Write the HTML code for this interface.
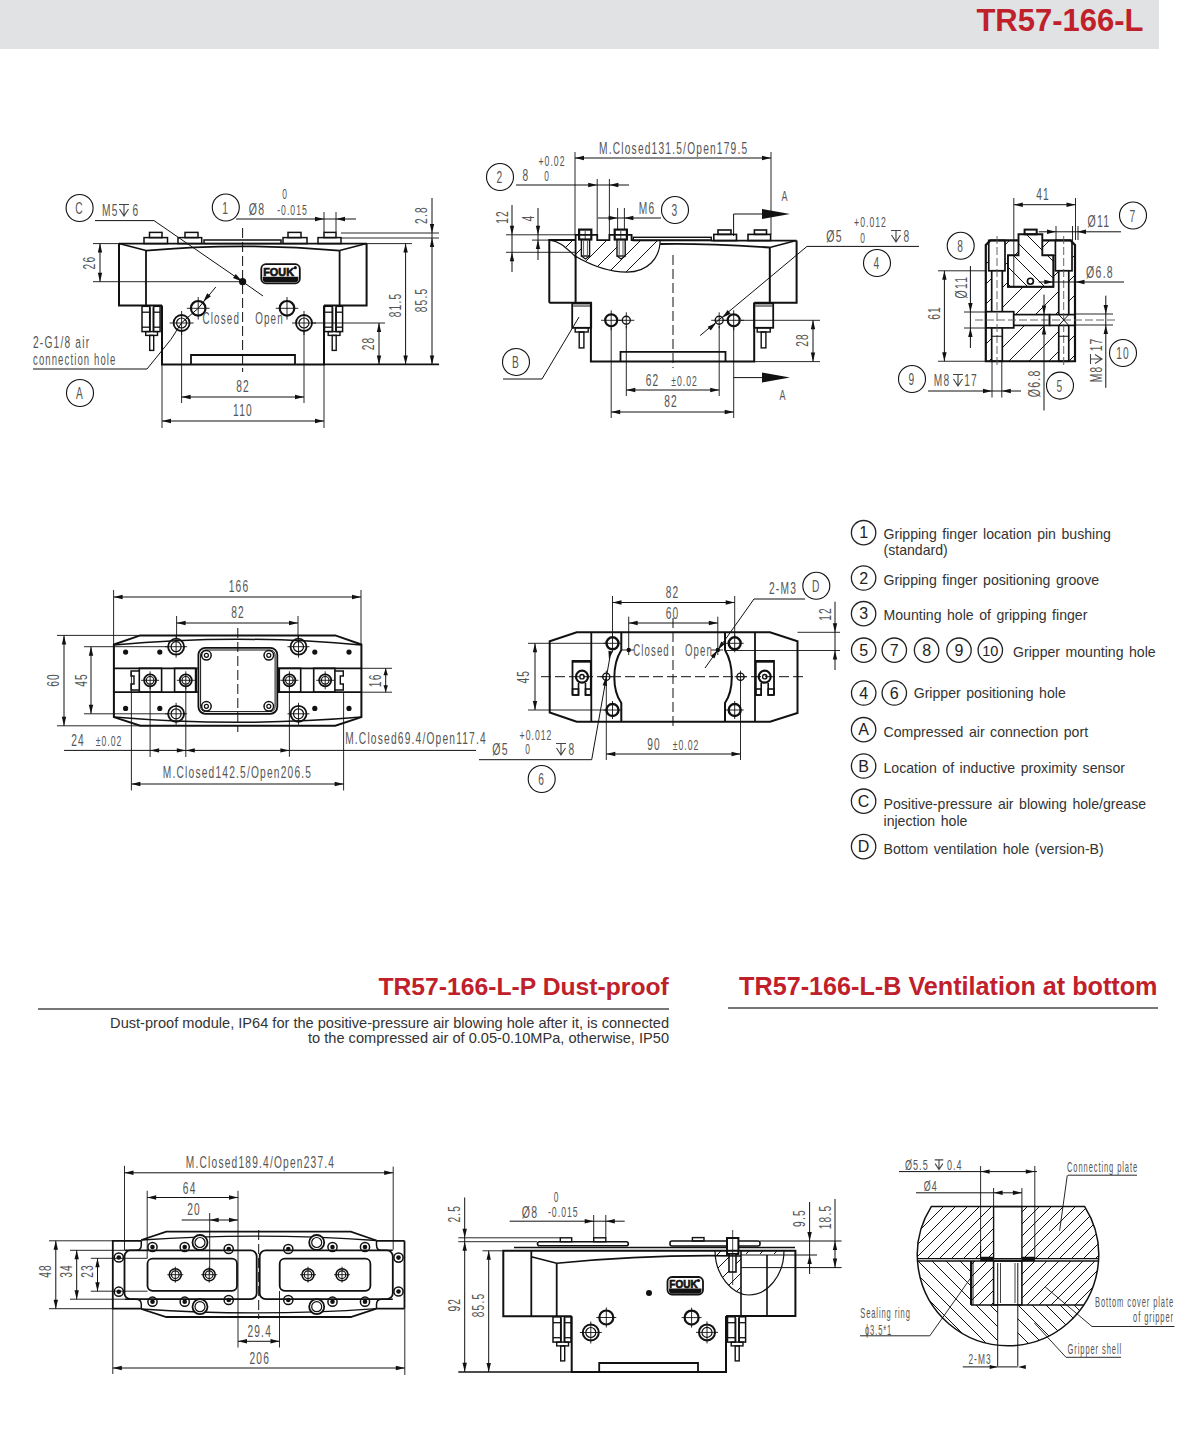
<!DOCTYPE html>
<html><head><meta charset="utf-8">
<style>
html,body{margin:0;padding:0;background:#fff;}
body{width:1200px;height:1445px;position:relative;overflow:hidden;font-family:"Liberation Sans",sans-serif;}
.hdr{position:absolute;left:0;top:0;width:1159px;height:49px;background:#e1e2e4;}
.hdr span{position:absolute;right:15.5px;top:3.5px;font-size:31px;font-weight:bold;color:#c0202a;line-height:34px;}
svg{position:absolute;left:0;top:0;}

.leg{position:absolute;left:883px;font-size:14.5px;color:#333;line-height:16px;}
.ttl{position:absolute;font-size:25px;font-weight:bold;color:#c0202a;line-height:28px;white-space:nowrap;}
.rule{position:absolute;height:2px;background:#777;}
.desc{position:absolute;right:531px;top:1015px;font-size:14.6px;color:#333;line-height:15.5px;text-align:right;white-space:nowrap;}
</style></head><body>
<div class="hdr"><span>TR57-166-L</span></div>
<svg width="1200" height="1445" viewBox="0 0 1200 1445" font-family="Liberation Sans">
<rect x="144" y="237.6" width="23.5" height="6" fill="none" stroke="#111" stroke-width="1.5"/>
<rect x="149.5" y="232.4" width="12.5" height="5.2" fill="none" stroke="#111" stroke-width="1.5"/>
<rect x="178" y="237.6" width="23.7" height="6" fill="none" stroke="#111" stroke-width="1.5"/>
<rect x="185" y="232.4" width="13" height="5.2" fill="none" stroke="#111" stroke-width="1.5"/>
<rect x="283" y="237.6" width="24" height="6" fill="none" stroke="#111" stroke-width="1.5"/>
<rect x="288" y="232.4" width="13" height="5.2" fill="none" stroke="#111" stroke-width="1.5"/>
<rect x="318" y="237.6" width="23" height="6" fill="none" stroke="#111" stroke-width="1.5"/>
<rect x="324" y="232.4" width="12" height="5.2" fill="none" stroke="#111" stroke-width="1.5"/>
<rect x="204" y="240" width="77" height="3.6" fill="none" stroke="#111" stroke-width="1.5"/>
<polyline points="119,243.6 366.6,243.6" fill="none" stroke="#111" stroke-width="1.8" stroke-linejoin="miter"/>
<polyline points="162,305.6 119,305.6 119,243.6" fill="none" stroke="#111" stroke-width="2.0" stroke-linejoin="miter"/>
<polyline points="324,305.6 366.6,305.6 366.6,243.6" fill="none" stroke="#111" stroke-width="2.0" stroke-linejoin="miter"/>
<polyline points="119,243.6 146,250.6" fill="none" stroke="#111" stroke-width="1.6" stroke-linejoin="miter"/>
<polyline points="366.6,243.6 339.6,250.6" fill="none" stroke="#111" stroke-width="1.6" stroke-linejoin="miter"/>
<path d="M146,250.6 Q242.6,242 339.6,250.6" fill="none" stroke="#111" stroke-width="1.8" />
<line x1="146" y1="250.6" x2="146" y2="305.6" stroke="#111" stroke-width="1.8"/>
<line x1="339.6" y1="250.6" x2="339.6" y2="305.6" stroke="#111" stroke-width="1.8"/>
<polyline points="162,305.6 162,364.4 324,364.4 324,305.6" fill="none" stroke="#111" stroke-width="2.0" stroke-linejoin="miter"/>
<polyline points="191,364.4 191,355 295,355 295,364.4" fill="none" stroke="#111" stroke-width="1.8" stroke-linejoin="miter"/>
<rect x="142" y="306.3" width="7.7" height="25.3" fill="none" stroke="#111" stroke-width="1.5"/>
<rect x="153.7" y="306.3" width="6.4" height="25.3" fill="none" stroke="#111" stroke-width="1.5"/>
<line x1="142" y1="312.2" x2="149.7" y2="312.2" stroke="#111" stroke-width="1.3"/>
<line x1="153.7" y1="312.2" x2="160.1" y2="312.2" stroke="#111" stroke-width="1.3"/>
<line x1="142" y1="327.2" x2="149.7" y2="327.2" stroke="#111" stroke-width="1.3"/>
<line x1="153.7" y1="327.2" x2="160.1" y2="327.2" stroke="#111" stroke-width="1.3"/>
<line x1="150.4" y1="307.3" x2="150.4" y2="331.6" stroke="#111" stroke-width="0.9"/>
<line x1="153" y1="307.3" x2="153" y2="331.6" stroke="#111" stroke-width="0.9"/>
<rect x="145.7" y="331.6" width="11.8" height="3.8" fill="none" stroke="#111" stroke-width="1.4"/>
<rect x="149.7" y="335.4" width="4" height="15" fill="none" stroke="#111" stroke-width="1.4"/>
<rect x="324.5" y="306.3" width="7.7" height="25.3" fill="none" stroke="#111" stroke-width="1.5"/>
<rect x="336.2" y="306.3" width="6.4" height="25.3" fill="none" stroke="#111" stroke-width="1.5"/>
<line x1="324.5" y1="312.2" x2="332.2" y2="312.2" stroke="#111" stroke-width="1.3"/>
<line x1="336.2" y1="312.2" x2="342.6" y2="312.2" stroke="#111" stroke-width="1.3"/>
<line x1="324.5" y1="327.2" x2="332.2" y2="327.2" stroke="#111" stroke-width="1.3"/>
<line x1="336.2" y1="327.2" x2="342.6" y2="327.2" stroke="#111" stroke-width="1.3"/>
<line x1="332.9" y1="307.3" x2="332.9" y2="331.6" stroke="#111" stroke-width="0.9"/>
<line x1="335.5" y1="307.3" x2="335.5" y2="331.6" stroke="#111" stroke-width="0.9"/>
<rect x="328.2" y="331.6" width="11.8" height="3.8" fill="none" stroke="#111" stroke-width="1.4"/>
<rect x="332.2" y="335.4" width="4" height="15" fill="none" stroke="#111" stroke-width="1.4"/>
<line x1="242.6" y1="228" x2="242.6" y2="372" stroke="#111" stroke-width="1.0" stroke-dasharray="10,4"/>
<rect x="261.3" y="264.2" width="38.5" height="19.1" rx="4.5" fill="none" stroke="#111" stroke-width="1.8"/>
<path d="M262.8,276.806 H298.3 V279.3 Q298.3,282.3 295.3,282.3 H265.8 Q262.8,282.3 262.8,279.3 Z" fill="#111"/>
<text transform="translate(278.62,275.66) scale(0.92,1)" font-size="11.84" font-weight="bold" text-anchor="middle" fill="#111" stroke="#111" stroke-width="0.7" font-family="Liberation Sans">FOUK</text>
<circle cx="295.3" cy="267.7" r="1.6" fill="#111"/>
<circle cx="181.6" cy="323" r="8" fill="none" stroke="#111" stroke-width="1.8"/>
<circle cx="181.6" cy="323" r="5" fill="none" stroke="#111" stroke-width="1.2"/>
<line x1="169.6" y1="323" x2="193.6" y2="323" stroke="#111" stroke-width="0.9"/>
<line x1="181.6" y1="311" x2="181.6" y2="335" stroke="#111" stroke-width="0.9"/>
<circle cx="304" cy="323" r="8" fill="none" stroke="#111" stroke-width="1.8"/>
<circle cx="304" cy="323" r="5" fill="none" stroke="#111" stroke-width="1.2"/>
<line x1="292" y1="323" x2="316" y2="323" stroke="#111" stroke-width="0.9"/>
<line x1="304" y1="311" x2="304" y2="335" stroke="#111" stroke-width="0.9"/>
<circle cx="198.2" cy="308.3" r="7.3" fill="none" stroke="#111" stroke-width="2.2"/>
<line x1="186.9" y1="308.3" x2="209.5" y2="308.3" stroke="#111" stroke-width="0.9"/>
<line x1="198.2" y1="297" x2="198.2" y2="319.6" stroke="#111" stroke-width="0.9"/>
<circle cx="287" cy="308.3" r="7.3" fill="none" stroke="#111" stroke-width="2.2"/>
<line x1="275.7" y1="308.3" x2="298.3" y2="308.3" stroke="#111" stroke-width="0.9"/>
<line x1="287" y1="297" x2="287" y2="319.6" stroke="#111" stroke-width="0.9"/>
<circle cx="242.6" cy="281.7" r="3.6" fill="#111"/>
<polyline points="95,220.6 154,220.6 242.6,281.7" fill="none" stroke="#111" stroke-width="1.0" stroke-linejoin="miter"/>
<polygon points="242.6,281.7 233.01,278 235.73,274.05" fill="#111"/>
<line x1="242.6" y1="281.7" x2="263" y2="296" stroke="#111" stroke-width="1.0"/>
<polygon points="242.6,281.7 242.74,281.67 242.63,281.84" fill="#111"/>
<polygon points="255,290.5 254.86,290.53 254.97,290.36" fill="#111"/>
<polyline points="33,369 147,369 170.8,339.6 181.5,322.9 198.2,308.3 215.8,287" fill="none" stroke="#111" stroke-width="1.0" stroke-linejoin="miter"/>
<polygon points="203.3,301.7 207.19,293.24 210.89,296.3" fill="#111"/>
<line x1="93" y1="243.6" x2="119" y2="243.6" stroke="#111" stroke-width="0.9"/>
<line x1="93" y1="281.7" x2="242" y2="281.7" stroke="#111" stroke-width="0.9"/>
<line x1="100" y1="243.6" x2="100" y2="281.7" stroke="#111" stroke-width="1.0"/>
<polygon points="100,243.6 102.2,252.6 97.8,252.6" fill="#111"/>
<polygon points="100,281.7 97.8,272.7 102.2,272.7" fill="#111"/>
<text transform="translate(89,262.6) rotate(-90) scale(0.6,1)" y="6.04" font-size="17" text-anchor="middle" fill="#555" font-weight="normal" font-family="Liberation Sans" letter-spacing="2.00">26</text>
<line x1="181.6" y1="331" x2="181.6" y2="403" stroke="#111" stroke-width="0.9"/>
<line x1="304" y1="331" x2="304" y2="403" stroke="#111" stroke-width="0.9"/>
<line x1="181.6" y1="397" x2="304" y2="397" stroke="#111" stroke-width="1.0"/>
<polygon points="181.6,397 190.6,394.8 190.6,399.2" fill="#111"/>
<polygon points="304,397 295,399.2 295,394.8" fill="#111"/>
<text transform="translate(243,386) scale(0.6,1)" y="6.04" font-size="17" text-anchor="middle" fill="#555" font-weight="normal" font-family="Liberation Sans" letter-spacing="2.00">82</text>
<line x1="162" y1="364.4" x2="162" y2="428" stroke="#111" stroke-width="0.9"/>
<line x1="324" y1="364.4" x2="324" y2="428" stroke="#111" stroke-width="0.9"/>
<line x1="162" y1="421" x2="324" y2="421" stroke="#111" stroke-width="1.0"/>
<polygon points="162,421 171,418.8 171,423.2" fill="#111"/>
<polygon points="324,421 315,423.2 315,418.8" fill="#111"/>
<text transform="translate(243,410) scale(0.6,1)" y="6.04" font-size="17" text-anchor="middle" fill="#555" font-weight="normal" font-family="Liberation Sans" letter-spacing="2.00">110</text>
<line x1="312" y1="323" x2="385" y2="323" stroke="#111" stroke-width="0.9"/>
<line x1="324" y1="364.4" x2="439" y2="364.4" stroke="#111" stroke-width="1.8"/>
<line x1="379" y1="323" x2="379" y2="364.4" stroke="#111" stroke-width="1.0"/>
<polygon points="379,323 381.2,332 376.8,332" fill="#111"/>
<polygon points="379,364.4 376.8,355.4 381.2,355.4" fill="#111"/>
<text transform="translate(368,343.5) rotate(-90) scale(0.6,1)" y="6.04" font-size="17" text-anchor="middle" fill="#555" font-weight="normal" font-family="Liberation Sans" letter-spacing="2.00">28</text>
<line x1="366.6" y1="243.6" x2="412" y2="243.6" stroke="#111" stroke-width="0.9"/>
<line x1="405.6" y1="243.6" x2="405.6" y2="364.4" stroke="#111" stroke-width="1.0"/>
<polygon points="405.6,243.6 407.8,252.6 403.4,252.6" fill="#111"/>
<polygon points="405.6,364.4 403.4,355.4 407.8,355.4" fill="#111"/>
<text transform="translate(395,305) rotate(-90) scale(0.6,1)" y="6.04" font-size="17" text-anchor="middle" fill="#555" font-weight="normal" font-family="Liberation Sans" letter-spacing="2.00">81.5</text>
<line x1="341" y1="233" x2="439" y2="233" stroke="#111" stroke-width="0.9"/>
<line x1="341" y1="238" x2="439" y2="238" stroke="#111" stroke-width="0.9"/>
<line x1="432" y1="198" x2="432" y2="364.4" stroke="#111" stroke-width="1.0"/>
<polygon points="432,233 429.8,224 434.2,224" fill="#111"/>
<polygon points="432,238 434.2,247 429.8,247" fill="#111"/>
<polygon points="432,364.4 429.8,355.4 434.2,355.4" fill="#111"/>
<text transform="translate(421,215) rotate(-90) scale(0.6,1)" y="6.04" font-size="17" text-anchor="middle" fill="#555" font-weight="normal" font-family="Liberation Sans" letter-spacing="2.00">2.8</text>
<text transform="translate(421,300) rotate(-90) scale(0.6,1)" y="6.04" font-size="17" text-anchor="middle" fill="#555" font-weight="normal" font-family="Liberation Sans" letter-spacing="2.00">85.5</text>
<line x1="236" y1="219" x2="356" y2="219" stroke="#111" stroke-width="1.0"/>
<line x1="324" y1="212" x2="324" y2="232" stroke="#111" stroke-width="0.9"/>
<line x1="336" y1="212" x2="336" y2="232" stroke="#111" stroke-width="0.9"/>
<polygon points="324,219 315,221.2 315,216.8" fill="#111"/>
<polygon points="336,219 345,216.8 345,221.2" fill="#111"/>
<text transform="translate(257,209) scale(0.62,1)" y="6.04" font-size="17" text-anchor="middle" fill="#555" font-weight="normal" font-family="Liberation Sans" letter-spacing="2.00">Ø8</text>
<text transform="translate(285,194) scale(0.6,1)" y="4.97" font-size="14" text-anchor="middle" fill="#555" font-weight="normal" font-family="Liberation Sans" letter-spacing="1.65">0</text>
<text transform="translate(292.5,210) scale(0.62,1)" y="4.97" font-size="14" text-anchor="middle" fill="#555" font-weight="normal" font-family="Liberation Sans" letter-spacing="1.65">-0.015</text>
<circle cx="79.6" cy="208" r="13.5" fill="none" stroke="#111" stroke-width="1.1"/>
<text transform="translate(79.6,208) scale(0.6,1)" y="6.04" font-size="17" text-anchor="middle" fill="#555" font-weight="normal" font-family="Liberation Sans" letter-spacing="2.00">C</text>
<circle cx="225.8" cy="207.5" r="13.5" fill="none" stroke="#111" stroke-width="1.1"/>
<text transform="translate(225.8,207.5) scale(0.6,1)" y="6.04" font-size="17" text-anchor="middle" fill="#555" font-weight="normal" font-family="Liberation Sans" letter-spacing="2.00">1</text>
<text transform="translate(102,210) scale(0.6,1)" y="6.04" font-size="17" text-anchor="start" fill="#555" font-weight="normal" font-family="Liberation Sans" letter-spacing="2.00">M5</text>
<path d="M119.0,204.5 H129.0 M124,204.5 V216.0 M119.5,209.0 L124,216.0 L128.5,209.0" fill="none" stroke="#444" stroke-width="1.1" />
<text transform="translate(136,210) scale(0.6,1)" y="6.04" font-size="17" text-anchor="middle" fill="#555" font-weight="normal" font-family="Liberation Sans" letter-spacing="2.00">6</text>
<text transform="translate(221.3,318.2) scale(0.58,1)" y="6.04" font-size="17" text-anchor="middle" fill="#555" font-weight="normal" font-family="Liberation Sans" letter-spacing="2.00">Closed</text>
<text transform="translate(269.5,318.2) scale(0.58,1)" y="6.04" font-size="17" text-anchor="middle" fill="#555" font-weight="normal" font-family="Liberation Sans" letter-spacing="2.00">Open</text>
<text transform="translate(33,342) scale(0.6,1)" y="6.04" font-size="17" text-anchor="start" fill="#555" font-weight="normal" font-family="Liberation Sans" letter-spacing="2.00">2-G1/8 air</text>
<text transform="translate(33,359) scale(0.56,1)" y="6.04" font-size="17" text-anchor="start" fill="#555" font-weight="normal" font-family="Liberation Sans" letter-spacing="2.00">connection hole</text>
<circle cx="80" cy="393" r="13.5" fill="none" stroke="#111" stroke-width="1.1"/>
<text transform="translate(80,393) scale(0.6,1)" y="6.04" font-size="17" text-anchor="middle" fill="#555" font-weight="normal" font-family="Liberation Sans" letter-spacing="2.00">A</text>
<clipPath id="sec2"><path d="M549.3,240.1 C560,241 566,248 575,256 C592,266 610,272 627,272.2 C648,272 660,258 660.2,240.1 Z"/></clipPath>
<g clip-path="url(#sec2)">
<line x1="370" y1="290" x2="430" y2="230" stroke="#111" stroke-width="1.0"/>
<line x1="387" y1="290" x2="447" y2="230" stroke="#111" stroke-width="1.0"/>
<line x1="404" y1="290" x2="464" y2="230" stroke="#111" stroke-width="1.0"/>
<line x1="421" y1="290" x2="481" y2="230" stroke="#111" stroke-width="1.0"/>
<line x1="438" y1="290" x2="498" y2="230" stroke="#111" stroke-width="1.0"/>
<line x1="455" y1="290" x2="515" y2="230" stroke="#111" stroke-width="1.0"/>
<line x1="472" y1="290" x2="532" y2="230" stroke="#111" stroke-width="1.0"/>
<line x1="489" y1="290" x2="549" y2="230" stroke="#111" stroke-width="1.0"/>
<line x1="506" y1="290" x2="566" y2="230" stroke="#111" stroke-width="1.0"/>
<line x1="523" y1="290" x2="583" y2="230" stroke="#111" stroke-width="1.0"/>
<line x1="540" y1="290" x2="600" y2="230" stroke="#111" stroke-width="1.0"/>
<line x1="557" y1="290" x2="617" y2="230" stroke="#111" stroke-width="1.0"/>
<line x1="574" y1="290" x2="634" y2="230" stroke="#111" stroke-width="1.0"/>
<line x1="591" y1="290" x2="651" y2="230" stroke="#111" stroke-width="1.0"/>
<line x1="608" y1="290" x2="668" y2="230" stroke="#111" stroke-width="1.0"/>
<line x1="625" y1="290" x2="685" y2="230" stroke="#111" stroke-width="1.0"/>
<line x1="642" y1="290" x2="702" y2="230" stroke="#111" stroke-width="1.0"/>
<line x1="659" y1="290" x2="719" y2="230" stroke="#111" stroke-width="1.0"/>
<line x1="676" y1="290" x2="736" y2="230" stroke="#111" stroke-width="1.0"/>
<line x1="693" y1="290" x2="753" y2="230" stroke="#111" stroke-width="1.0"/>
<line x1="710" y1="290" x2="770" y2="230" stroke="#111" stroke-width="1.0"/>
<line x1="727" y1="290" x2="787" y2="230" stroke="#111" stroke-width="1.0"/>
<line x1="744" y1="290" x2="804" y2="230" stroke="#111" stroke-width="1.0"/>
<line x1="761" y1="290" x2="821" y2="230" stroke="#111" stroke-width="1.0"/>
<line x1="778" y1="290" x2="838" y2="230" stroke="#111" stroke-width="1.0"/>
<line x1="795" y1="290" x2="855" y2="230" stroke="#111" stroke-width="1.0"/>
<line x1="812" y1="290" x2="872" y2="230" stroke="#111" stroke-width="1.0"/>
<line x1="829" y1="290" x2="889" y2="230" stroke="#111" stroke-width="1.0"/>
<line x1="846" y1="290" x2="906" y2="230" stroke="#111" stroke-width="1.0"/>
<line x1="863" y1="290" x2="923" y2="230" stroke="#111" stroke-width="1.0"/>
</g>
<rect x="581.4" y="239.5" width="8.2" height="16.5" fill="#fff" stroke="#111" stroke-width="1.4"/>
<path d="M581.4,256 L585.5,259 L589.6,256" fill="none" stroke="#111" stroke-width="1.2" />
<line x1="583.6" y1="241" x2="583.6" y2="255" stroke="#111" stroke-width="0.7"/>
<line x1="587.4" y1="241" x2="587.4" y2="255" stroke="#111" stroke-width="0.7"/>
<rect x="579.1" y="229.6" width="12.2" height="9.9" fill="#fff" stroke="#111" stroke-width="2.2"/>
<line x1="585.2" y1="231" x2="585.2" y2="239" stroke="#111" stroke-width="0.8"/>
<line x1="580.1" y1="234.5" x2="590.1" y2="234.5" stroke="#111" stroke-width="0.8"/>
<rect x="617" y="239.5" width="8.2" height="16.5" fill="#fff" stroke="#111" stroke-width="1.4"/>
<path d="M617.0,256 L621.1,259 L625.2,256" fill="none" stroke="#111" stroke-width="1.2" />
<line x1="619.2" y1="241" x2="619.2" y2="255" stroke="#111" stroke-width="0.7"/>
<line x1="623" y1="241" x2="623" y2="255" stroke="#111" stroke-width="0.7"/>
<rect x="614.7" y="229.6" width="12.2" height="9.9" fill="#fff" stroke="#111" stroke-width="2.2"/>
<line x1="620.8" y1="231" x2="620.8" y2="239" stroke="#111" stroke-width="0.8"/>
<line x1="615.7" y1="234.5" x2="625.7" y2="234.5" stroke="#111" stroke-width="0.8"/>
<path d="M549.3,240.1 C560,241 566,248 575,256 C592,266 610,272 627,272.2 C648,272 660,258 660.2,240.1" fill="none" stroke="#111" stroke-width="1.2" />
<polyline points="575.6,258 575.6,234.8 597.2,234.8 597.2,240.1 609.4,240.1 609.4,234.8 631.6,234.8 631.6,240.1 711.3,240.1" fill="none" stroke="#111" stroke-width="1.8" stroke-linejoin="miter"/>
<rect x="633.3" y="237.3" width="78" height="3.3" fill="none" stroke="#111" stroke-width="1.4"/>
<rect x="713.8" y="234.4" width="22.7" height="6.2" fill="none" stroke="#111" stroke-width="1.6"/>
<rect x="718" y="230" width="13" height="4.4" fill="none" stroke="#111" stroke-width="1.6"/>
<rect x="748" y="234.4" width="22.6" height="6.2" fill="none" stroke="#111" stroke-width="1.6"/>
<rect x="754.4" y="230" width="12.1" height="4.4" fill="none" stroke="#111" stroke-width="1.6"/>
<line x1="711.3" y1="240.6" x2="796.3" y2="240.6" stroke="#111" stroke-width="1.8"/>
<polyline points="549.3,302.8 549.3,240.1 575.6,240.1" fill="none" stroke="#111" stroke-width="2.0" stroke-linejoin="miter"/>
<line x1="575.6" y1="256" x2="575.6" y2="302.8" stroke="#111" stroke-width="2.0"/>
<path d="M660.2,244 Q700,243 769.8,247.5" fill="none" stroke="#111" stroke-width="1.8" />
<line x1="796.3" y1="240.6" x2="769.8" y2="247.5" stroke="#111" stroke-width="1.6"/>
<polyline points="754.2,302.8 796.6,302.8 796.6,240.6" fill="none" stroke="#111" stroke-width="2.0" stroke-linejoin="miter"/>
<line x1="769.8" y1="247.5" x2="769.8" y2="302.8" stroke="#111" stroke-width="2.0"/>
<polyline points="549.3,302.8 590.9,302.8 590.9,361.6 754.2,361.6 754.2,302.8" fill="none" stroke="#111" stroke-width="2.0" stroke-linejoin="miter"/>
<polyline points="620.5,361.6 620.5,351.8 725.5,351.8 725.5,361.6" fill="none" stroke="#111" stroke-width="1.8" stroke-linejoin="miter"/>
<rect x="572.2" y="303.5" width="19" height="24.3" fill="none" stroke="#111" stroke-width="1.8"/>
<line x1="573.2" y1="306" x2="590.2" y2="306" stroke="#111" stroke-width="1.0"/>
<rect x="575.2" y="327.8" width="13" height="4.2" fill="none" stroke="#111" stroke-width="1.4"/>
<rect x="579.2" y="332" width="4.7" height="15.9" fill="none" stroke="#111" stroke-width="1.4"/>
<rect x="754.2" y="303.5" width="19" height="24.3" fill="none" stroke="#111" stroke-width="1.8"/>
<line x1="755.2" y1="306" x2="772.2" y2="306" stroke="#111" stroke-width="1.0"/>
<rect x="757.2" y="327.8" width="13" height="4.2" fill="none" stroke="#111" stroke-width="1.4"/>
<rect x="761.2" y="332" width="4.7" height="15.9" fill="none" stroke="#111" stroke-width="1.4"/>
<line x1="673" y1="255" x2="673" y2="368" stroke="#111" stroke-width="1.0" stroke-dasharray="10,4"/>
<circle cx="611.2" cy="320.3" r="6" fill="none" stroke="#111" stroke-width="2.2"/>
<line x1="601.2" y1="320.3" x2="621.2" y2="320.3" stroke="#111" stroke-width="0.9"/>
<line x1="611.2" y1="310.3" x2="611.2" y2="330.3" stroke="#111" stroke-width="0.9"/>
<circle cx="626.3" cy="320.3" r="4" fill="none" stroke="#111" stroke-width="1.4"/>
<line x1="618.3" y1="320.3" x2="634.3" y2="320.3" stroke="#111" stroke-width="0.9"/>
<line x1="626.3" y1="312.3" x2="626.3" y2="328.3" stroke="#111" stroke-width="0.9"/>
<circle cx="719.2" cy="320.3" r="4" fill="none" stroke="#111" stroke-width="1.4"/>
<line x1="711.2" y1="320.3" x2="727.2" y2="320.3" stroke="#111" stroke-width="0.9"/>
<line x1="719.2" y1="312.3" x2="719.2" y2="328.3" stroke="#111" stroke-width="0.9"/>
<circle cx="733.7" cy="320.3" r="6" fill="none" stroke="#111" stroke-width="2.2"/>
<line x1="723.7" y1="320.3" x2="743.7" y2="320.3" stroke="#111" stroke-width="0.9"/>
<line x1="733.7" y1="310.3" x2="733.7" y2="330.3" stroke="#111" stroke-width="0.9"/>
<polyline points="503,379 542,379 579,317" fill="none" stroke="#111" stroke-width="1.0" stroke-linejoin="miter"/>
<circle cx="516" cy="362" r="13.5" fill="none" stroke="#111" stroke-width="1.1"/>
<text transform="translate(516,362) scale(0.6,1)" y="6.04" font-size="17" text-anchor="middle" fill="#555" font-weight="normal" font-family="Liberation Sans" letter-spacing="2.00">B</text>
<polyline points="919,246.4 807,246.4 700.2,335.5" fill="none" stroke="#111" stroke-width="1.0" stroke-linejoin="miter"/>
<polygon points="722.3,317.7 727.64,310.07 730.73,313.74" fill="#111"/>
<polygon points="716.1,322.9 710.76,330.53 707.67,326.86" fill="#111"/>
<text transform="translate(834.5,236) scale(0.62,1)" y="6.04" font-size="17" text-anchor="middle" fill="#555" font-weight="normal" font-family="Liberation Sans" letter-spacing="2.00">Ø5</text>
<text transform="translate(870.5,222) scale(0.62,1)" y="4.97" font-size="14" text-anchor="middle" fill="#555" font-weight="normal" font-family="Liberation Sans" letter-spacing="1.65">+0.012</text>
<text transform="translate(863,238) scale(0.6,1)" y="4.97" font-size="14" text-anchor="middle" fill="#555" font-weight="normal" font-family="Liberation Sans" letter-spacing="1.65">0</text>
<path d="M891.0,230.5 H901.0 M896,230.5 V242.0 M891.5,235.0 L896,242.0 L900.5,235.0" fill="none" stroke="#444" stroke-width="1.1" />
<text transform="translate(907,236) scale(0.6,1)" y="6.04" font-size="17" text-anchor="middle" fill="#555" font-weight="normal" font-family="Liberation Sans" letter-spacing="2.00">8</text>
<circle cx="877" cy="263" r="13.5" fill="none" stroke="#111" stroke-width="1.1"/>
<text transform="translate(877,263) scale(0.6,1)" y="6.04" font-size="17" text-anchor="middle" fill="#555" font-weight="normal" font-family="Liberation Sans" letter-spacing="2.00">4</text>
<line x1="626.3" y1="326" x2="626.3" y2="396" stroke="#111" stroke-width="0.9"/>
<line x1="719.2" y1="326" x2="719.2" y2="396" stroke="#111" stroke-width="0.9"/>
<line x1="626.3" y1="390" x2="719.2" y2="390" stroke="#111" stroke-width="1.0"/>
<polygon points="626.3,390 635.3,387.8 635.3,392.2" fill="#111"/>
<polygon points="719.2,390 710.2,392.2 710.2,387.8" fill="#111"/>
<text transform="translate(652.5,380) scale(0.6,1)" y="6.04" font-size="17" text-anchor="middle" fill="#555" font-weight="normal" font-family="Liberation Sans" letter-spacing="2.00">62</text>
<text transform="translate(684.5,381) scale(0.62,1)" y="4.97" font-size="14" text-anchor="middle" fill="#555" font-weight="normal" font-family="Liberation Sans" letter-spacing="1.65">±0.02</text>
<line x1="611.2" y1="328" x2="611.2" y2="418" stroke="#111" stroke-width="0.9"/>
<line x1="733.7" y1="328" x2="733.7" y2="418" stroke="#111" stroke-width="0.9"/>
<line x1="611.2" y1="412" x2="733.7" y2="412" stroke="#111" stroke-width="1.0"/>
<polygon points="611.2,412 620.2,409.8 620.2,414.2" fill="#111"/>
<polygon points="733.7,412 724.7,414.2 724.7,409.8" fill="#111"/>
<text transform="translate(671,401) scale(0.6,1)" y="6.04" font-size="17" text-anchor="middle" fill="#555" font-weight="normal" font-family="Liberation Sans" letter-spacing="2.00">82</text>
<line x1="741" y1="320.3" x2="820" y2="320.3" stroke="#111" stroke-width="0.9"/>
<line x1="754.2" y1="361.6" x2="820" y2="361.6" stroke="#111" stroke-width="0.9"/>
<line x1="813" y1="320.3" x2="813" y2="361.6" stroke="#111" stroke-width="1.0"/>
<polygon points="813,320.3 815.2,329.3 810.8,329.3" fill="#111"/>
<polygon points="813,361.6 810.8,352.6 815.2,352.6" fill="#111"/>
<text transform="translate(802,340) rotate(-90) scale(0.6,1)" y="6.04" font-size="17" text-anchor="middle" fill="#555" font-weight="normal" font-family="Liberation Sans" letter-spacing="2.00">28</text>
<polyline points="733.6,236 733.6,214 765,214" fill="none" stroke="#111" stroke-width="1.0" stroke-linejoin="miter"/>
<polygon points="762,209 790,214 762,219" fill="#111"/>
<text transform="translate(785,196) scale(0.6,1)" y="5.32" font-size="15" text-anchor="middle" fill="#555" font-weight="normal" font-family="Liberation Sans" letter-spacing="1.76">A</text>
<line x1="733.7" y1="377.6" x2="765" y2="377.6" stroke="#111" stroke-width="1.0"/>
<polygon points="762,372.6 790,377.6 762,382.6" fill="#111"/>
<text transform="translate(783,395) scale(0.6,1)" y="5.32" font-size="15" text-anchor="middle" fill="#555" font-weight="normal" font-family="Liberation Sans" letter-spacing="1.76">A</text>
<line x1="575" y1="152" x2="575" y2="234.8" stroke="#111" stroke-width="0.9"/>
<line x1="771" y1="152" x2="771" y2="234.4" stroke="#111" stroke-width="0.9"/>
<line x1="575" y1="158" x2="771" y2="158" stroke="#111" stroke-width="1.0"/>
<polygon points="575,158 584,155.8 584,160.2" fill="#111"/>
<polygon points="771,158 762,160.2 762,155.8" fill="#111"/>
<text transform="translate(599,148) scale(0.6,1)" y="6.04" font-size="17" text-anchor="start" fill="#555" font-weight="normal" font-family="Liberation Sans" letter-spacing="2.00">M.Closed131.5/Open179.5</text>
<line x1="516" y1="185" x2="629" y2="185" stroke="#111" stroke-width="1.0"/>
<line x1="597.2" y1="179" x2="597.2" y2="234.8" stroke="#111" stroke-width="0.9"/>
<line x1="609.4" y1="179" x2="609.4" y2="234.8" stroke="#111" stroke-width="0.9"/>
<polygon points="597.2,185 588.2,187.2 588.2,182.8" fill="#111"/>
<polygon points="609.4,185 618.4,182.8 618.4,187.2" fill="#111"/>
<circle cx="500" cy="177" r="13.5" fill="none" stroke="#111" stroke-width="1.1"/>
<text transform="translate(500,177) scale(0.6,1)" y="6.04" font-size="17" text-anchor="middle" fill="#555" font-weight="normal" font-family="Liberation Sans" letter-spacing="2.00">2</text>
<text transform="translate(526,175) scale(0.6,1)" y="6.04" font-size="17" text-anchor="middle" fill="#555" font-weight="normal" font-family="Liberation Sans" letter-spacing="2.00">8</text>
<text transform="translate(552,161) scale(0.62,1)" y="4.97" font-size="14" text-anchor="middle" fill="#555" font-weight="normal" font-family="Liberation Sans" letter-spacing="1.65">+0.02</text>
<text transform="translate(547,176) scale(0.6,1)" y="4.97" font-size="14" text-anchor="middle" fill="#555" font-weight="normal" font-family="Liberation Sans" letter-spacing="1.65">0</text>
<line x1="598" y1="218" x2="661" y2="218" stroke="#111" stroke-width="1.0"/>
<line x1="617.6" y1="208" x2="617.6" y2="229.6" stroke="#111" stroke-width="0.9"/>
<line x1="624.4" y1="208" x2="624.4" y2="229.6" stroke="#111" stroke-width="0.9"/>
<polygon points="617.6,218 608.6,220.2 608.6,215.8" fill="#111"/>
<polygon points="624.4,218 633.4,215.8 633.4,220.2" fill="#111"/>
<text transform="translate(647,208) scale(0.6,1)" y="6.04" font-size="17" text-anchor="middle" fill="#555" font-weight="normal" font-family="Liberation Sans" letter-spacing="2.00">M6</text>
<circle cx="675" cy="210" r="13.5" fill="none" stroke="#111" stroke-width="1.1"/>
<text transform="translate(675,210) scale(0.6,1)" y="6.04" font-size="17" text-anchor="middle" fill="#555" font-weight="normal" font-family="Liberation Sans" letter-spacing="2.00">3</text>
<line x1="506" y1="234.8" x2="575.6" y2="234.8" stroke="#111" stroke-width="0.9"/>
<line x1="506" y1="252.3" x2="575.6" y2="252.3" stroke="#111" stroke-width="0.9"/>
<line x1="532" y1="240.1" x2="549.3" y2="240.1" stroke="#111" stroke-width="0.9"/>
<line x1="512" y1="205" x2="512" y2="272" stroke="#111" stroke-width="1.0"/>
<polygon points="512,234.8 509.8,225.8 514.2,225.8" fill="#111"/>
<polygon points="512,252.3 514.2,261.3 509.8,261.3" fill="#111"/>
<line x1="538" y1="208" x2="538" y2="260" stroke="#111" stroke-width="1.0"/>
<polygon points="538,234.8 535.8,225.8 540.2,225.8" fill="#111"/>
<polygon points="538,240.1 540.2,249.1 535.8,249.1" fill="#111"/>
<text transform="translate(502,217) rotate(-90) scale(0.6,1)" y="6.04" font-size="17" text-anchor="middle" fill="#555" font-weight="normal" font-family="Liberation Sans" letter-spacing="2.00">12</text>
<text transform="translate(528,218) rotate(-90) scale(0.6,1)" y="6.04" font-size="17" text-anchor="middle" fill="#555" font-weight="normal" font-family="Liberation Sans" letter-spacing="2.00">4</text>
<clipPath id="blk3"><path d="M985.8,245 L990.4,240.4 H1070.4 L1075,245 V361.25 H985.8 Z"/></clipPath>
<g clip-path="url(#blk3)">
<line x1="800" y1="370" x2="950" y2="220" stroke="#111" stroke-width="1.0"/>
<line x1="820" y1="370" x2="970" y2="220" stroke="#111" stroke-width="1.0"/>
<line x1="840" y1="370" x2="990" y2="220" stroke="#111" stroke-width="1.0"/>
<line x1="860" y1="370" x2="1010" y2="220" stroke="#111" stroke-width="1.0"/>
<line x1="880" y1="370" x2="1030" y2="220" stroke="#111" stroke-width="1.0"/>
<line x1="900" y1="370" x2="1050" y2="220" stroke="#111" stroke-width="1.0"/>
<line x1="920" y1="370" x2="1070" y2="220" stroke="#111" stroke-width="1.0"/>
<line x1="940" y1="370" x2="1090" y2="220" stroke="#111" stroke-width="1.0"/>
<line x1="960" y1="370" x2="1110" y2="220" stroke="#111" stroke-width="1.0"/>
<line x1="980" y1="370" x2="1130" y2="220" stroke="#111" stroke-width="1.0"/>
<line x1="1000" y1="370" x2="1150" y2="220" stroke="#111" stroke-width="1.0"/>
<line x1="1020" y1="370" x2="1170" y2="220" stroke="#111" stroke-width="1.0"/>
<line x1="1040" y1="370" x2="1190" y2="220" stroke="#111" stroke-width="1.0"/>
<line x1="1060" y1="370" x2="1210" y2="220" stroke="#111" stroke-width="1.0"/>
<line x1="1080" y1="370" x2="1230" y2="220" stroke="#111" stroke-width="1.0"/>
<line x1="1100" y1="370" x2="1250" y2="220" stroke="#111" stroke-width="1.0"/>
<line x1="1120" y1="370" x2="1270" y2="220" stroke="#111" stroke-width="1.0"/>
<line x1="1140" y1="370" x2="1290" y2="220" stroke="#111" stroke-width="1.0"/>
<line x1="1160" y1="370" x2="1310" y2="220" stroke="#111" stroke-width="1.0"/>
<line x1="1180" y1="370" x2="1330" y2="220" stroke="#111" stroke-width="1.0"/>
</g>
<rect x="988.75" y="240.4" width="16.25" height="30.4" fill="#fff" stroke="#111" stroke-width="1.7"/>
<rect x="991.7" y="270.8" width="10.6" height="90.45" fill="#fff" stroke="#111" stroke-width="1.7"/>
<rect x="1055.4" y="240.4" width="16.6" height="30.4" fill="#fff" stroke="#111" stroke-width="1.7"/>
<rect x="1058.75" y="270.8" width="10" height="90.45" fill="#fff" stroke="#111" stroke-width="1.7"/>
<rect x="1008" y="255.4" width="45.3" height="31.3" fill="#fff" stroke="#111" stroke-width="1.8"/>
<rect x="985.8" y="311.7" width="27.95" height="16.2" fill="#fff" stroke="#111" stroke-width="1.7"/>
<rect x="1013.75" y="314.6" width="35.85" height="10.8" fill="#fff" stroke="#111" stroke-width="1.7"/>
<rect x="1049.6" y="314.6" width="25.4" height="10.8" fill="#fff" stroke="#111" stroke-width="1.7"/>
<path d="M1018.5,234.3 H1042.3 V255.4 H1053.3 V286.7 H1008 V255.4 H1018.5 Z" fill="#fff"/>
<clipPath id="t3"><path d="M1018.5,234.3 H1042.3 V255.4 H1053.3 V286.7 H1008 V255.4 H1018.5 Z"/></clipPath>
<g clip-path="url(#t3)">
<line x1="898" y1="225" x2="978" y2="305" stroke="#111" stroke-width="1.0"/>
<line x1="915" y1="225" x2="995" y2="305" stroke="#111" stroke-width="1.0"/>
<line x1="932" y1="225" x2="1012" y2="305" stroke="#111" stroke-width="1.0"/>
<line x1="949" y1="225" x2="1029" y2="305" stroke="#111" stroke-width="1.0"/>
<line x1="966" y1="225" x2="1046" y2="305" stroke="#111" stroke-width="1.0"/>
<line x1="983" y1="225" x2="1063" y2="305" stroke="#111" stroke-width="1.0"/>
<line x1="1000" y1="225" x2="1080" y2="305" stroke="#111" stroke-width="1.0"/>
<line x1="1017" y1="225" x2="1097" y2="305" stroke="#111" stroke-width="1.0"/>
<line x1="1034" y1="225" x2="1114" y2="305" stroke="#111" stroke-width="1.0"/>
<line x1="1051" y1="225" x2="1131" y2="305" stroke="#111" stroke-width="1.0"/>
<line x1="1068" y1="225" x2="1148" y2="305" stroke="#111" stroke-width="1.0"/>
<line x1="1085" y1="225" x2="1165" y2="305" stroke="#111" stroke-width="1.0"/>
<line x1="1102" y1="225" x2="1182" y2="305" stroke="#111" stroke-width="1.0"/>
<line x1="1119" y1="225" x2="1199" y2="305" stroke="#111" stroke-width="1.0"/>
</g>
<path d="M1018.5,234.3 H1042.3 V255.4 H1053.3 V286.7 H1008 V255.4 H1018.5 Z" fill="none" stroke="#111" stroke-width="1.9" />
<rect x="1024.6" y="229.6" width="12.1" height="4.7" fill="none" stroke="#111" stroke-width="2.0"/>
<circle cx="1030.4" cy="281.25" r="3" fill="#fff" stroke="#111" stroke-width="1.7"/>
<path d="M1018.5,240.4 H990.4 L985.8,245 V361.25 H1075 V245 L1070.4,240.4 H1042.3" fill="none" stroke="#111" stroke-width="2.2" />
<line x1="997" y1="236" x2="997" y2="366" stroke="#555" stroke-width="0.9" stroke-dasharray="8,3"/>
<line x1="1063.7" y1="236" x2="1063.7" y2="366" stroke="#555" stroke-width="0.9" stroke-dasharray="8,3"/>
<line x1="975" y1="320" x2="1118" y2="320" stroke="#555" stroke-width="0.9" stroke-dasharray="8,3"/>
<line x1="991.7" y1="336.25" x2="1002.3" y2="336.25" stroke="#111" stroke-width="1.0"/>
<line x1="1058.75" y1="336.25" x2="1068.75" y2="336.25" stroke="#111" stroke-width="1.0"/>
<line x1="1058.75" y1="314.6" x2="1068.75" y2="325.4" stroke="#111" stroke-width="1.0"/>
<line x1="1068.75" y1="314.6" x2="1058.75" y2="325.4" stroke="#111" stroke-width="1.0"/>
<line x1="1013.8" y1="198" x2="1013.8" y2="286" stroke="#111" stroke-width="0.9"/>
<line x1="1075.5" y1="198" x2="1075.5" y2="240" stroke="#111" stroke-width="0.9"/>
<line x1="1013.8" y1="204.7" x2="1075.5" y2="204.7" stroke="#111" stroke-width="1.0"/>
<polygon points="1013.8,204.7 1022.8,202.5 1022.8,206.9" fill="#111"/>
<polygon points="1075.5,204.7 1066.5,206.9 1066.5,202.5" fill="#111"/>
<text transform="translate(1043,194) scale(0.6,1)" y="6.04" font-size="17" text-anchor="middle" fill="#555" font-weight="normal" font-family="Liberation Sans" letter-spacing="2.00">41</text>
<line x1="1056" y1="226" x2="1056" y2="240" stroke="#111" stroke-width="0.9"/>
<line x1="1072.5" y1="226" x2="1072.5" y2="240" stroke="#111" stroke-width="0.9"/>
<line x1="1078" y1="226" x2="1078" y2="240" stroke="#111" stroke-width="0.9"/>
<line x1="1038.7" y1="231.8" x2="1121" y2="231.8" stroke="#111" stroke-width="1.0"/>
<polygon points="1056,231.8 1047,234 1047,229.6" fill="#111"/>
<polygon points="1077,231.8 1086,229.6 1086,234" fill="#111"/>
<text transform="translate(1099,221) scale(0.62,1)" y="6.04" font-size="17" text-anchor="middle" fill="#555" font-weight="normal" font-family="Liberation Sans" letter-spacing="2.00">Ø11</text>
<circle cx="1133" cy="215.5" r="13.5" fill="none" stroke="#111" stroke-width="1.1"/>
<text transform="translate(1133,215.5) scale(0.6,1)" y="6.04" font-size="17" text-anchor="middle" fill="#555" font-weight="normal" font-family="Liberation Sans" letter-spacing="2.00">7</text>
<circle cx="960.7" cy="245.8" r="13.5" fill="none" stroke="#111" stroke-width="1.1"/>
<text transform="translate(960.7,245.8) scale(0.6,1)" y="6.04" font-size="17" text-anchor="middle" fill="#555" font-weight="normal" font-family="Liberation Sans" letter-spacing="2.00">8</text>
<line x1="1038.7" y1="282" x2="1124" y2="282" stroke="#111" stroke-width="1.0"/>
<polygon points="1053.3,282 1044.3,284.2 1044.3,279.8" fill="#111"/>
<polygon points="1075.5,282 1084.5,279.8 1084.5,284.2" fill="#111"/>
<text transform="translate(1100,271.8) scale(0.62,1)" y="6.04" font-size="17" text-anchor="middle" fill="#555" font-weight="normal" font-family="Liberation Sans" letter-spacing="2.00">Ø6.8</text>
<line x1="938" y1="270.8" x2="986" y2="270.8" stroke="#111" stroke-width="0.9"/>
<line x1="938" y1="361.25" x2="986" y2="361.25" stroke="#111" stroke-width="0.9"/>
<line x1="944.4" y1="270.8" x2="944.4" y2="361.25" stroke="#111" stroke-width="1.0"/>
<polygon points="944.4,270.8 946.6,279.8 942.2,279.8" fill="#111"/>
<polygon points="944.4,361.25 942.2,352.25 946.6,352.25" fill="#111"/>
<text transform="translate(933.6,313) rotate(-90) scale(0.6,1)" y="6.04" font-size="17" text-anchor="middle" fill="#555" font-weight="normal" font-family="Liberation Sans" letter-spacing="2.00">61</text>
<line x1="964" y1="312" x2="986" y2="312" stroke="#111" stroke-width="0.9"/>
<line x1="964" y1="328" x2="986" y2="328" stroke="#111" stroke-width="0.9"/>
<line x1="970.4" y1="266" x2="970.4" y2="348" stroke="#111" stroke-width="1.0"/>
<polygon points="970.4,312 968.2,303 972.6,303" fill="#111"/>
<polygon points="970.4,328 972.6,337 968.2,337" fill="#111"/>
<text transform="translate(960.7,287) rotate(-90) scale(0.62,1)" y="6.04" font-size="17" text-anchor="middle" fill="#555" font-weight="normal" font-family="Liberation Sans" letter-spacing="2.00">Ø11</text>
<line x1="992" y1="361" x2="992" y2="397.5" stroke="#111" stroke-width="0.9"/>
<line x1="1001.8" y1="361" x2="1001.8" y2="397.5" stroke="#111" stroke-width="0.9"/>
<line x1="928" y1="391" x2="1021" y2="391" stroke="#111" stroke-width="1.0"/>
<polygon points="992,391 983,393.2 983,388.8" fill="#111"/>
<polygon points="1001.8,391 1010.8,388.8 1010.8,393.2" fill="#111"/>
<circle cx="912" cy="379" r="13.5" fill="none" stroke="#111" stroke-width="1.1"/>
<text transform="translate(912,379) scale(0.6,1)" y="6.04" font-size="17" text-anchor="middle" fill="#555" font-weight="normal" font-family="Liberation Sans" letter-spacing="2.00">9</text>
<text transform="translate(942,380) scale(0.6,1)" y="6.04" font-size="17" text-anchor="middle" fill="#555" font-weight="normal" font-family="Liberation Sans" letter-spacing="2.00">M8</text>
<path d="M953.0,374.5 H963.0 M958,374.5 V386.0 M953.5,379.0 L958,386.0 L962.5,379.0" fill="none" stroke="#444" stroke-width="1.1" />
<text transform="translate(971,380) scale(0.6,1)" y="6.04" font-size="17" text-anchor="middle" fill="#555" font-weight="normal" font-family="Liberation Sans" letter-spacing="2.00">17</text>
<line x1="1044" y1="294.6" x2="1044" y2="410.5" stroke="#111" stroke-width="1.0"/>
<polygon points="1044,314.6 1041.8,305.6 1046.2,305.6" fill="#111"/>
<polygon points="1044,325.4 1046.2,334.4 1041.8,334.4" fill="#111"/>
<text transform="translate(1034,383.4) rotate(-90) scale(0.62,1)" y="6.04" font-size="17" text-anchor="middle" fill="#555" font-weight="normal" font-family="Liberation Sans" letter-spacing="2.00">Ø6.8</text>
<circle cx="1060" cy="385.6" r="13.5" fill="none" stroke="#111" stroke-width="1.1"/>
<text transform="translate(1060,385.6) scale(0.6,1)" y="6.04" font-size="17" text-anchor="middle" fill="#555" font-weight="normal" font-family="Liberation Sans" letter-spacing="2.00">5</text>
<line x1="1075" y1="314" x2="1113" y2="314" stroke="#111" stroke-width="0.9"/>
<line x1="1075" y1="325" x2="1113" y2="325" stroke="#111" stroke-width="0.9"/>
<line x1="1105.8" y1="295.7" x2="1105.8" y2="387.8" stroke="#111" stroke-width="1.0"/>
<polygon points="1105.8,314 1103.6,305 1108,305" fill="#111"/>
<polygon points="1105.8,325 1108,334 1103.6,334" fill="#111"/>
<text transform="translate(1096,374) rotate(-90) scale(0.6,1)" y="6.04" font-size="17" text-anchor="middle" fill="#555" font-weight="normal" font-family="Liberation Sans" letter-spacing="2.00">M8</text>
<g transform="translate(1096,359) rotate(-90)">
<path d="M-5.0,-5.5 H5.0 M0,-5.5 V6.0 M-4.5,-1.0 L0,6.0 L4.5,-1.0" fill="none" stroke="#444" stroke-width="1.1" />
</g>
<text transform="translate(1096,344.5) rotate(-90) scale(0.6,1)" y="6.04" font-size="17" text-anchor="middle" fill="#555" font-weight="normal" font-family="Liberation Sans" letter-spacing="2.00">17</text>
<circle cx="1123" cy="353" r="13.5" fill="none" stroke="#111" stroke-width="1.1"/>
<text transform="translate(1123,353) scale(0.6,1)" y="6.04" font-size="17" text-anchor="middle" fill="#555" font-weight="normal" font-family="Liberation Sans" letter-spacing="2.00">10</text>
<polygon points="140.3,635.4 335.3,635.4 361.4,644.5 361.4,717.1 335.3,725.8 140.3,725.8 113.9,717.1 113.9,644.5" fill="none" stroke="#111" stroke-width="2.0" stroke-linejoin="miter"/>
<path d="M113.9,645 Q237.8,633.5 361.4,645" fill="none" stroke="#111" stroke-width="1.5" />
<path d="M113.9,717 Q237.8,727.5 361.4,717" fill="none" stroke="#111" stroke-width="1.5" />
<line x1="113.9" y1="668.3" x2="197.8" y2="668.3" stroke="#111" stroke-width="1.8"/>
<line x1="113.9" y1="692.2" x2="197.8" y2="692.2" stroke="#111" stroke-width="1.8"/>
<line x1="277.9" y1="668.3" x2="361.4" y2="668.3" stroke="#111" stroke-width="1.8"/>
<line x1="277.9" y1="692.2" x2="361.4" y2="692.2" stroke="#111" stroke-width="1.8"/>
<rect x="139.3" y="668.3" width="22.3" height="23.9" fill="none" stroke="#111" stroke-width="1.6"/>
<rect x="174.6" y="668.3" width="21" height="23.9" fill="none" stroke="#111" stroke-width="1.6"/>
<rect x="278.6" y="668.3" width="22.1" height="23.9" fill="none" stroke="#111" stroke-width="1.6"/>
<rect x="313.7" y="668.3" width="21.2" height="23.9" fill="none" stroke="#111" stroke-width="1.6"/>
<line x1="196.5" y1="668.3" x2="196.5" y2="692.2" stroke="#111" stroke-width="1.2"/>
<line x1="279.5" y1="668.3" x2="279.5" y2="692.2" stroke="#111" stroke-width="1.2"/>
<circle cx="150.1" cy="680.3" r="6" fill="none" stroke="#111" stroke-width="1.8"/>
<circle cx="150.1" cy="680.3" r="3.8" fill="none" stroke="#111" stroke-width="1.2"/>
<line x1="141.1" y1="680.3" x2="159.1" y2="680.3" stroke="#111" stroke-width="0.9"/>
<line x1="150.1" y1="671.3" x2="150.1" y2="689.3" stroke="#111" stroke-width="0.9"/>
<circle cx="185.8" cy="680.3" r="6" fill="none" stroke="#111" stroke-width="1.8"/>
<circle cx="185.8" cy="680.3" r="3.8" fill="none" stroke="#111" stroke-width="1.2"/>
<line x1="176.8" y1="680.3" x2="194.8" y2="680.3" stroke="#111" stroke-width="0.9"/>
<line x1="185.8" y1="671.3" x2="185.8" y2="689.3" stroke="#111" stroke-width="0.9"/>
<circle cx="289.4" cy="680.3" r="6" fill="none" stroke="#111" stroke-width="1.8"/>
<circle cx="289.4" cy="680.3" r="3.8" fill="none" stroke="#111" stroke-width="1.2"/>
<line x1="280.4" y1="680.3" x2="298.4" y2="680.3" stroke="#111" stroke-width="0.9"/>
<line x1="289.4" y1="671.3" x2="289.4" y2="689.3" stroke="#111" stroke-width="0.9"/>
<circle cx="325.2" cy="680.3" r="6" fill="none" stroke="#111" stroke-width="1.8"/>
<circle cx="325.2" cy="680.3" r="3.8" fill="none" stroke="#111" stroke-width="1.2"/>
<line x1="316.2" y1="680.3" x2="334.2" y2="680.3" stroke="#111" stroke-width="0.9"/>
<line x1="325.2" y1="671.3" x2="325.2" y2="689.3" stroke="#111" stroke-width="0.9"/>
<path d="M139.3,671 H131 V676 H134 V684 H131 V690 H139.3" fill="none" stroke="#111" stroke-width="1.4" />
<path d="M335,671 H343.3 V676 H340.3 V684 H343.3 V690 H335" fill="none" stroke="#111" stroke-width="1.4" />
<rect x="198.4" y="647.8" width="78.9" height="66" rx="7" fill="none" stroke="#111" stroke-width="1.8"/>
<rect x="200.6" y="650" width="74.5" height="61.6" rx="5" fill="none" stroke="#111" stroke-width="1.0"/>
<circle cx="206.4" cy="655.3" r="4.8" fill="none" stroke="#111" stroke-width="1.5"/>
<circle cx="206.4" cy="655.3" r="2" fill="none" stroke="#111" stroke-width="1.2"/>
<circle cx="268.8" cy="655.3" r="4.8" fill="none" stroke="#111" stroke-width="1.5"/>
<circle cx="268.8" cy="655.3" r="2" fill="none" stroke="#111" stroke-width="1.2"/>
<circle cx="206.4" cy="706.3" r="4.8" fill="none" stroke="#111" stroke-width="1.5"/>
<circle cx="206.4" cy="706.3" r="2" fill="none" stroke="#111" stroke-width="1.2"/>
<circle cx="268.8" cy="706.3" r="4.8" fill="none" stroke="#111" stroke-width="1.5"/>
<circle cx="268.8" cy="706.3" r="2" fill="none" stroke="#111" stroke-width="1.2"/>
<circle cx="176.1" cy="646.7" r="8" fill="none" stroke="#111" stroke-width="1.8"/>
<circle cx="176.1" cy="646.7" r="5" fill="none" stroke="#111" stroke-width="1.2"/>
<line x1="165.1" y1="646.7" x2="187.1" y2="646.7" stroke="#111" stroke-width="0.9"/>
<line x1="176.1" y1="635.7" x2="176.1" y2="657.7" stroke="#111" stroke-width="0.9"/>
<circle cx="298.5" cy="646.7" r="8" fill="none" stroke="#111" stroke-width="1.8"/>
<circle cx="298.5" cy="646.7" r="5" fill="none" stroke="#111" stroke-width="1.2"/>
<line x1="287.5" y1="646.7" x2="309.5" y2="646.7" stroke="#111" stroke-width="0.9"/>
<line x1="298.5" y1="635.7" x2="298.5" y2="657.7" stroke="#111" stroke-width="0.9"/>
<circle cx="176.1" cy="713.8" r="8" fill="none" stroke="#111" stroke-width="1.8"/>
<circle cx="176.1" cy="713.8" r="5" fill="none" stroke="#111" stroke-width="1.2"/>
<line x1="165.1" y1="713.8" x2="187.1" y2="713.8" stroke="#111" stroke-width="0.9"/>
<line x1="176.1" y1="702.8" x2="176.1" y2="724.8" stroke="#111" stroke-width="0.9"/>
<circle cx="298.5" cy="713.8" r="8" fill="none" stroke="#111" stroke-width="1.8"/>
<circle cx="298.5" cy="713.8" r="5" fill="none" stroke="#111" stroke-width="1.2"/>
<line x1="287.5" y1="713.8" x2="309.5" y2="713.8" stroke="#111" stroke-width="0.9"/>
<line x1="298.5" y1="702.8" x2="298.5" y2="724.8" stroke="#111" stroke-width="0.9"/>
<circle cx="125.6" cy="652.1" r="2.6" fill="#111"/>
<circle cx="159.8" cy="652.1" r="2.6" fill="#111"/>
<circle cx="314.8" cy="652.1" r="2.6" fill="#111"/>
<circle cx="349" cy="652.1" r="2.6" fill="#111"/>
<circle cx="125.6" cy="708.4" r="2.6" fill="#111"/>
<circle cx="159.8" cy="708.4" r="2.6" fill="#111"/>
<circle cx="314.8" cy="708.4" r="2.6" fill="#111"/>
<circle cx="349" cy="708.4" r="2.6" fill="#111"/>
<line x1="237.8" y1="628" x2="237.8" y2="732" stroke="#111" stroke-width="1.0" stroke-dasharray="10,4"/>
<line x1="113.6" y1="590" x2="113.6" y2="644.5" stroke="#111" stroke-width="0.9"/>
<line x1="361" y1="590" x2="361" y2="644.5" stroke="#111" stroke-width="0.9"/>
<line x1="113.6" y1="597" x2="361" y2="597" stroke="#111" stroke-width="1.0"/>
<polygon points="113.6,597 122.6,594.8 122.6,599.2" fill="#111"/>
<polygon points="361,597 352,599.2 352,594.8" fill="#111"/>
<text transform="translate(239,586) scale(0.6,1)" y="6.04" font-size="17" text-anchor="middle" fill="#555" font-weight="normal" font-family="Liberation Sans" letter-spacing="2.00">166</text>
<line x1="176.6" y1="616" x2="176.6" y2="638" stroke="#111" stroke-width="0.9"/>
<line x1="298" y1="616" x2="298" y2="638" stroke="#111" stroke-width="0.9"/>
<line x1="176.6" y1="623" x2="298" y2="623" stroke="#111" stroke-width="1.0"/>
<polygon points="176.6,623 185.6,620.8 185.6,625.2" fill="#111"/>
<polygon points="298,623 289,625.2 289,620.8" fill="#111"/>
<text transform="translate(238,612) scale(0.6,1)" y="6.04" font-size="17" text-anchor="middle" fill="#555" font-weight="normal" font-family="Liberation Sans" letter-spacing="2.00">82</text>
<line x1="57" y1="635.4" x2="140" y2="635.4" stroke="#111" stroke-width="0.9"/>
<line x1="57" y1="725.8" x2="140" y2="725.8" stroke="#111" stroke-width="0.9"/>
<line x1="64" y1="635.4" x2="64" y2="725.8" stroke="#111" stroke-width="1.0"/>
<polygon points="64,635.4 66.2,644.4 61.8,644.4" fill="#111"/>
<polygon points="64,725.8 61.8,716.8 66.2,716.8" fill="#111"/>
<text transform="translate(53,680) rotate(-90) scale(0.6,1)" y="6.04" font-size="17" text-anchor="middle" fill="#555" font-weight="normal" font-family="Liberation Sans" letter-spacing="2.00">60</text>
<line x1="84" y1="646.7" x2="168" y2="646.7" stroke="#111" stroke-width="0.9"/>
<line x1="84" y1="713.8" x2="168" y2="713.8" stroke="#111" stroke-width="0.9"/>
<line x1="91" y1="646.7" x2="91" y2="713.8" stroke="#111" stroke-width="1.0"/>
<polygon points="91,646.7 93.2,655.7 88.8,655.7" fill="#111"/>
<polygon points="91,713.8 88.8,704.8 93.2,704.8" fill="#111"/>
<text transform="translate(81,680) rotate(-90) scale(0.6,1)" y="6.04" font-size="17" text-anchor="middle" fill="#555" font-weight="normal" font-family="Liberation Sans" letter-spacing="2.00">45</text>
<line x1="361.4" y1="668.3" x2="392" y2="668.3" stroke="#111" stroke-width="0.9"/>
<line x1="361.4" y1="692.2" x2="392" y2="692.2" stroke="#111" stroke-width="0.9"/>
<line x1="385.7" y1="668.3" x2="385.7" y2="692.2" stroke="#111" stroke-width="1.0"/>
<polygon points="385.7,668.3 387.9,675.3 383.5,675.3" fill="#111"/>
<polygon points="385.7,692.2 383.5,685.2 387.9,685.2" fill="#111"/>
<text transform="translate(375,680.3) rotate(-90) scale(0.6,1)" y="6.04" font-size="17" text-anchor="middle" fill="#555" font-weight="normal" font-family="Liberation Sans" letter-spacing="2.00">16</text>
<line x1="131.4" y1="672" x2="131.4" y2="790.5" stroke="#111" stroke-width="0.9"/>
<line x1="150.1" y1="686" x2="150.1" y2="757" stroke="#111" stroke-width="0.9"/>
<line x1="185.8" y1="686" x2="185.8" y2="757" stroke="#111" stroke-width="0.9"/>
<line x1="64" y1="750.4" x2="476" y2="750.4" stroke="#111" stroke-width="1.0"/>
<polygon points="150.1,750.4 159.1,748.2 159.1,752.6" fill="#111"/>
<polygon points="185.8,750.4 176.8,752.6 176.8,748.2" fill="#111"/>
<polygon points="185.8,750.4 194.8,748.2 194.8,752.6" fill="#111"/>
<polygon points="289.4,750.4 280.4,752.6 280.4,748.2" fill="#111"/>
<line x1="289.4" y1="686" x2="289.4" y2="756.8" stroke="#111" stroke-width="0.9"/>
<line x1="343.6" y1="692" x2="343.6" y2="790.5" stroke="#111" stroke-width="0.9"/>
<text transform="translate(78,740) scale(0.6,1)" y="6.04" font-size="17" text-anchor="middle" fill="#555" font-weight="normal" font-family="Liberation Sans" letter-spacing="2.00">24</text>
<text transform="translate(109,741) scale(0.62,1)" y="4.97" font-size="14" text-anchor="middle" fill="#555" font-weight="normal" font-family="Liberation Sans" letter-spacing="1.65">±0.02</text>
<text transform="translate(416,737.6) scale(0.6,1)" y="6.04" font-size="17" text-anchor="middle" fill="#555" font-weight="normal" font-family="Liberation Sans" letter-spacing="2.00">M.Closed69.4/Open117.4</text>
<text transform="translate(237.5,772) scale(0.6,1)" y="6.04" font-size="17" text-anchor="middle" fill="#555" font-weight="normal" font-family="Liberation Sans" letter-spacing="2.00">M.Closed142.5/Open206.5</text>
<line x1="131.4" y1="784" x2="343.6" y2="784" stroke="#111" stroke-width="1.0"/>
<polygon points="131.4,784 140.4,781.8 140.4,786.2" fill="#111"/>
<polygon points="343.6,784 334.6,786.2 334.6,781.8" fill="#111"/>
<polygon points="576.7,632.3 770,632.3 797.5,641.2 797.5,713 770,721.7 576.7,721.7 549.7,712.5 549.7,641.3" fill="none" stroke="#111" stroke-width="2.0" stroke-linejoin="miter"/>
<line x1="591.3" y1="632.3" x2="591.3" y2="721.7" stroke="#111" stroke-width="1.8"/>
<line x1="755" y1="632.3" x2="755" y2="721.7" stroke="#111" stroke-width="1.8"/>
<path d="M621.3,632.3 V650 C612,665 612,690 621.3,703 V721.7" fill="none" stroke="#111" stroke-width="2.0" />
<path d="M725,632.3 V650 C734,665 734,690 725,703 V721.7" fill="none" stroke="#111" stroke-width="2.0" />
<circle cx="612.5" cy="643.3" r="6" fill="none" stroke="#111" stroke-width="2.4"/>
<line x1="603.5" y1="643.3" x2="621.5" y2="643.3" stroke="#111" stroke-width="0.9"/>
<line x1="612.5" y1="634.3" x2="612.5" y2="652.3" stroke="#111" stroke-width="0.9"/>
<circle cx="612.5" cy="710" r="6" fill="none" stroke="#111" stroke-width="2.4"/>
<line x1="603.5" y1="710" x2="621.5" y2="710" stroke="#111" stroke-width="0.9"/>
<line x1="612.5" y1="701" x2="612.5" y2="719" stroke="#111" stroke-width="0.9"/>
<circle cx="734.7" cy="643.3" r="6" fill="none" stroke="#111" stroke-width="2.4"/>
<line x1="725.7" y1="643.3" x2="743.7" y2="643.3" stroke="#111" stroke-width="0.9"/>
<line x1="734.7" y1="634.3" x2="734.7" y2="652.3" stroke="#111" stroke-width="0.9"/>
<circle cx="734.7" cy="710" r="6" fill="none" stroke="#111" stroke-width="2.4"/>
<line x1="725.7" y1="710" x2="743.7" y2="710" stroke="#111" stroke-width="0.9"/>
<line x1="734.7" y1="701" x2="734.7" y2="719" stroke="#111" stroke-width="0.9"/>
<circle cx="606.3" cy="676.7" r="3.6" fill="none" stroke="#111" stroke-width="1.4"/>
<line x1="600.3" y1="676.7" x2="612.3" y2="676.7" stroke="#111" stroke-width="0.9"/>
<line x1="606.3" y1="670.7" x2="606.3" y2="682.7" stroke="#111" stroke-width="0.9"/>
<circle cx="740.5" cy="676.7" r="3.6" fill="none" stroke="#111" stroke-width="1.4"/>
<line x1="734.5" y1="676.7" x2="746.5" y2="676.7" stroke="#111" stroke-width="0.9"/>
<line x1="740.5" y1="670.7" x2="740.5" y2="682.7" stroke="#111" stroke-width="0.9"/>
<path d="M572.5,695 V660.8 H590.8 V695" fill="none" stroke="#111" stroke-width="1.8" />
<line x1="572.5" y1="661.5" x2="590.8" y2="661.5" stroke="#111" stroke-width="2.4"/>
<circle cx="582" cy="676.7" r="6" fill="none" stroke="#111" stroke-width="2.2"/>
<circle cx="582" cy="676.7" r="2.2" fill="none" stroke="#111" stroke-width="1.4"/>
<path d="M572.5,695 H578.5 V683 M585.5,683 V695 H590.8" fill="none" stroke="#111" stroke-width="1.6" />
<rect x="572.5" y="689" width="6" height="6" fill="none" stroke="#111" stroke-width="1.6"/>
<rect x="585.5" y="689" width="5.3" height="6" fill="none" stroke="#111" stroke-width="1.6"/>
<path d="M755.8,695 V660.8 H774 V695" fill="none" stroke="#111" stroke-width="1.8" />
<line x1="755.8" y1="661.5" x2="774" y2="661.5" stroke="#111" stroke-width="2.4"/>
<circle cx="764.7" cy="676.7" r="6" fill="none" stroke="#111" stroke-width="2.2"/>
<circle cx="764.7" cy="676.7" r="2.2" fill="none" stroke="#111" stroke-width="1.4"/>
<path d="M755.8,695 H761.2 V683 M768.2,683 V695 H774" fill="none" stroke="#111" stroke-width="1.6" />
<rect x="755.8" y="689" width="5.4" height="6" fill="none" stroke="#111" stroke-width="1.6"/>
<rect x="768.2" y="689" width="5.8" height="6" fill="none" stroke="#111" stroke-width="1.6"/>
<line x1="541" y1="676.7" x2="807" y2="676.7" stroke="#111" stroke-width="1.0" stroke-dasharray="10,4"/>
<line x1="673" y1="618" x2="673" y2="730" stroke="#111" stroke-width="1.0" stroke-dasharray="10,4"/>
<line x1="528" y1="643.3" x2="606" y2="643.3" stroke="#111" stroke-width="0.9"/>
<line x1="528" y1="710" x2="606" y2="710" stroke="#111" stroke-width="0.9"/>
<line x1="535" y1="643.3" x2="535" y2="710" stroke="#111" stroke-width="1.0"/>
<polygon points="535,643.3 537.2,652.3 532.8,652.3" fill="#111"/>
<polygon points="535,710 532.8,701 537.2,701" fill="#111"/>
<text transform="translate(523,676.7) rotate(-90) scale(0.6,1)" y="6.04" font-size="17" text-anchor="middle" fill="#555" font-weight="normal" font-family="Liberation Sans" letter-spacing="2.00">45</text>
<line x1="612.5" y1="596" x2="612.5" y2="637" stroke="#111" stroke-width="0.9"/>
<line x1="734.7" y1="596" x2="734.7" y2="637" stroke="#111" stroke-width="0.9"/>
<line x1="612.5" y1="602.5" x2="734.7" y2="602.5" stroke="#111" stroke-width="1.0"/>
<polygon points="612.5,602.5 621.5,600.3 621.5,604.7" fill="#111"/>
<polygon points="734.7,602.5 725.7,604.7 725.7,600.3" fill="#111"/>
<text transform="translate(672.5,591.7) scale(0.6,1)" y="6.04" font-size="17" text-anchor="middle" fill="#555" font-weight="normal" font-family="Liberation Sans" letter-spacing="2.00">82</text>
<line x1="628.7" y1="616.7" x2="628.7" y2="655" stroke="#111" stroke-width="0.9"/>
<line x1="717.8" y1="616.7" x2="717.8" y2="655" stroke="#111" stroke-width="0.9"/>
<line x1="628.7" y1="623" x2="717.8" y2="623" stroke="#111" stroke-width="1.0"/>
<polygon points="628.7,623 637.7,620.8 637.7,625.2" fill="#111"/>
<polygon points="717.8,623 708.8,625.2 708.8,620.8" fill="#111"/>
<text transform="translate(672.5,612.5) scale(0.6,1)" y="6.04" font-size="17" text-anchor="middle" fill="#555" font-weight="normal" font-family="Liberation Sans" letter-spacing="2.00">60</text>
<circle cx="628.7" cy="650" r="2.2" fill="#111"/>
<circle cx="717.8" cy="650" r="2.2" fill="#111"/>
<line x1="622" y1="650" x2="634" y2="650" stroke="#111" stroke-width="0.9"/>
<line x1="711" y1="650" x2="723" y2="650" stroke="#111" stroke-width="0.9"/>
<text transform="translate(651.5,650) scale(0.6,1)" y="5.68" font-size="16" text-anchor="middle" fill="#555" font-weight="normal" font-family="Liberation Sans" letter-spacing="1.88">Closed</text>
<text transform="translate(699,650) scale(0.6,1)" y="5.68" font-size="16" text-anchor="middle" fill="#555" font-weight="normal" font-family="Liberation Sans" letter-spacing="1.88">Open</text>
<polyline points="805,599 754,599 705,668" fill="none" stroke="#111" stroke-width="1.0" stroke-linejoin="miter"/>
<polygon points="717.8,650 721.24,641.4 724.82,643.95" fill="#111"/>
<polygon points="717.8,650 714.36,658.6 710.78,656.05" fill="#111"/>
<text transform="translate(783,588) scale(0.6,1)" y="6.04" font-size="17" text-anchor="middle" fill="#555" font-weight="normal" font-family="Liberation Sans" letter-spacing="2.00">2-M3</text>
<circle cx="816.3" cy="585.8" r="13.5" fill="none" stroke="#111" stroke-width="1.1"/>
<text transform="translate(816.3,585.8) scale(0.6,1)" y="6.04" font-size="17" text-anchor="middle" fill="#555" font-weight="normal" font-family="Liberation Sans" letter-spacing="2.00">D</text>
<line x1="797.5" y1="632.3" x2="840" y2="632.3" stroke="#111" stroke-width="0.9"/>
<line x1="725" y1="650.5" x2="840" y2="650.5" stroke="#111" stroke-width="0.9"/>
<line x1="835" y1="601.7" x2="835" y2="670" stroke="#111" stroke-width="1.0"/>
<polygon points="835,632.3 832.8,623.3 837.2,623.3" fill="#111"/>
<polygon points="835,650.5 837.2,659.5 832.8,659.5" fill="#111"/>
<text transform="translate(825,614) rotate(-90) scale(0.6,1)" y="6.04" font-size="17" text-anchor="middle" fill="#555" font-weight="normal" font-family="Liberation Sans" letter-spacing="2.00">12</text>
<line x1="606.3" y1="681" x2="606.3" y2="760" stroke="#111" stroke-width="0.9"/>
<line x1="740.5" y1="681" x2="740.5" y2="760" stroke="#111" stroke-width="0.9"/>
<line x1="606.3" y1="754" x2="740.5" y2="754" stroke="#111" stroke-width="1.0"/>
<polygon points="606.3,754 615.3,751.8 615.3,756.2" fill="#111"/>
<polygon points="740.5,754 731.5,756.2 731.5,751.8" fill="#111"/>
<text transform="translate(654,744) scale(0.6,1)" y="6.04" font-size="17" text-anchor="middle" fill="#555" font-weight="normal" font-family="Liberation Sans" letter-spacing="2.00">90</text>
<text transform="translate(686,745) scale(0.62,1)" y="4.97" font-size="14" text-anchor="middle" fill="#555" font-weight="normal" font-family="Liberation Sans" letter-spacing="1.65">±0.02</text>
<polyline points="479,759.7 591.7,759.7 610,656.7" fill="none" stroke="#111" stroke-width="1.0" stroke-linejoin="miter"/>
<polygon points="606.3,676.7 606.9,685.95 602.57,685.18" fill="#111"/>
<polygon points="606.3,676.7 606.22,676.58 606.42,676.62" fill="#111"/>
<polygon points="609,660 608.4,650.75 612.73,651.52" fill="#111"/>
<text transform="translate(500.5,749) scale(0.62,1)" y="6.04" font-size="17" text-anchor="middle" fill="#555" font-weight="normal" font-family="Liberation Sans" letter-spacing="2.00">Ø5</text>
<text transform="translate(536,735) scale(0.62,1)" y="4.97" font-size="14" text-anchor="middle" fill="#555" font-weight="normal" font-family="Liberation Sans" letter-spacing="1.65">+0.012</text>
<text transform="translate(528,749) scale(0.6,1)" y="4.97" font-size="14" text-anchor="middle" fill="#555" font-weight="normal" font-family="Liberation Sans" letter-spacing="1.65">0</text>
<path d="M556.0,743.5 H566.0 M561,743.5 V755.0 M556.5,748.0 L561,755.0 L565.5,748.0" fill="none" stroke="#444" stroke-width="1.1" />
<text transform="translate(572,749) scale(0.6,1)" y="6.04" font-size="17" text-anchor="middle" fill="#555" font-weight="normal" font-family="Liberation Sans" letter-spacing="2.00">8</text>
<circle cx="541.7" cy="779" r="13.5" fill="none" stroke="#111" stroke-width="1.1"/>
<text transform="translate(541.7,779) scale(0.6,1)" y="6.04" font-size="17" text-anchor="middle" fill="#555" font-weight="normal" font-family="Liberation Sans" letter-spacing="2.00">6</text>
<path d="M141.3,1240.8 H112.8 V1308.7 H141.3" fill="none" stroke="#111" stroke-width="1.8" />
<path d="M141.3,1240.8 V1245 Q141.3,1250.3 136,1250.3 H124.5" fill="none" stroke="#111" stroke-width="1.5" />
<path d="M141.3,1308.7 V1304.5 Q141.3,1299.2 136,1299.2 H124.5" fill="none" stroke="#111" stroke-width="1.5" />
<path d="M404.5,1240.8 V1308.7 M376.5,1240.8 H404.5 M376.5,1308.7 H404.5" fill="none" stroke="#111" stroke-width="1.8" />
<path d="M376.5,1240.8 V1245 Q376.5,1250.3 381.5,1250.3 H392.8" fill="none" stroke="#111" stroke-width="1.5" />
<path d="M376.5,1308.7 V1304.5 Q376.5,1299.2 381.5,1299.2 H392.8" fill="none" stroke="#111" stroke-width="1.5" />
<polyline points="141.3,1240 166.3,1231.7 350.8,1231.7 376.5,1240.5" fill="none" stroke="#111" stroke-width="1.8" stroke-linejoin="miter"/>
<polyline points="141.3,1309 166.3,1317 350.8,1317 376.5,1308.6" fill="none" stroke="#111" stroke-width="1.8" stroke-linejoin="miter"/>
<path d="M141.3,1240 Q258.7,1232 376.5,1240.5" fill="none" stroke="#111" stroke-width="1.3" />
<path d="M141.3,1309 Q258.7,1317 376.5,1308.6" fill="none" stroke="#111" stroke-width="1.3" />
<rect x="124.5" y="1250.3" width="132.2" height="48.9" rx="6" fill="none" stroke="#111" stroke-width="1.8"/>
<rect x="259.7" y="1250.3" width="133.1" height="48.9" rx="6" fill="none" stroke="#111" stroke-width="1.8"/>
<rect x="147.5" y="1258.7" width="89.5" height="32.1" rx="5" fill="none" stroke="#111" stroke-width="1.8"/>
<rect x="279.7" y="1258.7" width="90.7" height="32.1" rx="5" fill="none" stroke="#111" stroke-width="1.8"/>
<circle cx="118.8" cy="1257.5" r="4.6" fill="none" stroke="#111" stroke-width="1.5"/>
<circle cx="118.8" cy="1257.5" r="2.3" fill="#111"/>
<circle cx="118.8" cy="1291.7" r="4.6" fill="none" stroke="#111" stroke-width="1.5"/>
<circle cx="118.8" cy="1291.7" r="2.3" fill="#111"/>
<circle cx="398.5" cy="1257.6" r="4.6" fill="none" stroke="#111" stroke-width="1.5"/>
<circle cx="398.5" cy="1257.6" r="2.3" fill="#111"/>
<circle cx="398.5" cy="1291.5" r="4.6" fill="none" stroke="#111" stroke-width="1.5"/>
<circle cx="398.5" cy="1291.5" r="2.3" fill="#111"/>
<circle cx="152.5" cy="1247" r="4.6" fill="none" stroke="#111" stroke-width="1.5"/>
<circle cx="152.5" cy="1247" r="2.3" fill="#111"/>
<circle cx="184.7" cy="1247" r="4.6" fill="none" stroke="#111" stroke-width="1.5"/>
<circle cx="184.7" cy="1247" r="2.3" fill="#111"/>
<circle cx="228.7" cy="1249" r="4.6" fill="none" stroke="#111" stroke-width="1.5"/>
<circle cx="228.7" cy="1249" r="2.3" fill="#111"/>
<circle cx="288.3" cy="1249" r="4.6" fill="none" stroke="#111" stroke-width="1.5"/>
<circle cx="288.3" cy="1249" r="2.3" fill="#111"/>
<circle cx="332.5" cy="1247" r="4.6" fill="none" stroke="#111" stroke-width="1.5"/>
<circle cx="332.5" cy="1247" r="2.3" fill="#111"/>
<circle cx="365" cy="1247" r="4.6" fill="none" stroke="#111" stroke-width="1.5"/>
<circle cx="365" cy="1247" r="2.3" fill="#111"/>
<circle cx="152.5" cy="1301.7" r="4.6" fill="none" stroke="#111" stroke-width="1.5"/>
<circle cx="152.5" cy="1301.7" r="2.3" fill="#111"/>
<circle cx="184.7" cy="1301.7" r="4.6" fill="none" stroke="#111" stroke-width="1.5"/>
<circle cx="184.7" cy="1301.7" r="2.3" fill="#111"/>
<circle cx="228.7" cy="1300" r="4.6" fill="none" stroke="#111" stroke-width="1.5"/>
<circle cx="228.7" cy="1300" r="2.3" fill="#111"/>
<circle cx="288.3" cy="1300" r="4.6" fill="none" stroke="#111" stroke-width="1.5"/>
<circle cx="288.3" cy="1300" r="2.3" fill="#111"/>
<circle cx="332.5" cy="1301.7" r="4.6" fill="none" stroke="#111" stroke-width="1.5"/>
<circle cx="332.5" cy="1301.7" r="2.3" fill="#111"/>
<circle cx="365" cy="1301.7" r="4.6" fill="none" stroke="#111" stroke-width="1.5"/>
<circle cx="365" cy="1301.7" r="2.3" fill="#111"/>
<circle cx="200" cy="1242.5" r="7.5" fill="#fff" stroke="#111" stroke-width="1.8"/>
<circle cx="200" cy="1242.5" r="5" fill="none" stroke="#111" stroke-width="1.2"/>
<circle cx="316.7" cy="1242.5" r="7.5" fill="#fff" stroke="#111" stroke-width="1.8"/>
<circle cx="316.7" cy="1242.5" r="5" fill="none" stroke="#111" stroke-width="1.2"/>
<circle cx="200" cy="1306.7" r="7.5" fill="#fff" stroke="#111" stroke-width="1.8"/>
<circle cx="200" cy="1306.7" r="5" fill="none" stroke="#111" stroke-width="1.2"/>
<circle cx="316.7" cy="1306.7" r="7.5" fill="#fff" stroke="#111" stroke-width="1.8"/>
<circle cx="316.7" cy="1306.7" r="5" fill="none" stroke="#111" stroke-width="1.2"/>
<circle cx="175.3" cy="1274.7" r="6" fill="none" stroke="#111" stroke-width="1.6"/>
<circle cx="175.3" cy="1274.7" r="3.8" fill="none" stroke="#111" stroke-width="1.2"/>
<line x1="167.3" y1="1274.7" x2="183.3" y2="1274.7" stroke="#111" stroke-width="0.9"/>
<line x1="175.3" y1="1266.7" x2="175.3" y2="1282.7" stroke="#111" stroke-width="0.9"/>
<circle cx="209.2" cy="1274.7" r="6" fill="none" stroke="#111" stroke-width="1.6"/>
<circle cx="209.2" cy="1274.7" r="3.8" fill="none" stroke="#111" stroke-width="1.2"/>
<line x1="201.2" y1="1274.7" x2="217.2" y2="1274.7" stroke="#111" stroke-width="0.9"/>
<line x1="209.2" y1="1266.7" x2="209.2" y2="1282.7" stroke="#111" stroke-width="0.9"/>
<circle cx="308" cy="1274.7" r="6" fill="none" stroke="#111" stroke-width="1.6"/>
<circle cx="308" cy="1274.7" r="3.8" fill="none" stroke="#111" stroke-width="1.2"/>
<line x1="300" y1="1274.7" x2="316" y2="1274.7" stroke="#111" stroke-width="0.9"/>
<line x1="308" y1="1266.7" x2="308" y2="1282.7" stroke="#111" stroke-width="0.9"/>
<circle cx="342" cy="1274.7" r="6" fill="none" stroke="#111" stroke-width="1.6"/>
<circle cx="342" cy="1274.7" r="3.8" fill="none" stroke="#111" stroke-width="1.2"/>
<line x1="334" y1="1274.7" x2="350" y2="1274.7" stroke="#111" stroke-width="0.9"/>
<line x1="342" y1="1266.7" x2="342" y2="1282.7" stroke="#111" stroke-width="0.9"/>
<line x1="258.7" y1="1230" x2="258.7" y2="1319" stroke="#111" stroke-width="1.0" stroke-dasharray="10,4"/>
<line x1="124.5" y1="1165.8" x2="124.5" y2="1250" stroke="#111" stroke-width="0.9"/>
<line x1="393.2" y1="1166.6" x2="393.2" y2="1249.7" stroke="#111" stroke-width="0.9"/>
<line x1="124.5" y1="1172.8" x2="393.2" y2="1172.8" stroke="#111" stroke-width="1.0"/>
<polygon points="124.5,1172.8 133.5,1170.6 133.5,1175" fill="#111"/>
<polygon points="393.2,1172.8 384.2,1175 384.2,1170.6" fill="#111"/>
<text transform="translate(260.5,1161.7) scale(0.6,1)" y="6.04" font-size="17" text-anchor="middle" fill="#555" font-weight="normal" font-family="Liberation Sans" letter-spacing="2.00">M.Closed189.4/Open237.4</text>
<line x1="147.2" y1="1190.8" x2="147.2" y2="1258" stroke="#111" stroke-width="0.9"/>
<line x1="238" y1="1190.8" x2="238" y2="1347.5" stroke="#111" stroke-width="0.9"/>
<line x1="147.2" y1="1197.5" x2="238" y2="1197.5" stroke="#111" stroke-width="1.0"/>
<polygon points="147.2,1197.5 156.2,1195.3 156.2,1199.7" fill="#111"/>
<polygon points="238,1197.5 229,1199.7 229,1195.3" fill="#111"/>
<text transform="translate(189.7,1187.5) scale(0.6,1)" y="6.04" font-size="17" text-anchor="middle" fill="#555" font-weight="normal" font-family="Liberation Sans" letter-spacing="2.00">64</text>
<line x1="209.7" y1="1213" x2="209.7" y2="1274" stroke="#111" stroke-width="0.9"/>
<line x1="181.7" y1="1220" x2="238" y2="1220" stroke="#111" stroke-width="1.0"/>
<polygon points="209.7,1220 218.7,1217.8 218.7,1222.2" fill="#111"/>
<polygon points="238,1220 229,1222.2 229,1217.8" fill="#111"/>
<text transform="translate(194,1209) scale(0.6,1)" y="6.04" font-size="17" text-anchor="middle" fill="#555" font-weight="normal" font-family="Liberation Sans" letter-spacing="2.00">20</text>
<line x1="49" y1="1240.8" x2="112.8" y2="1240.8" stroke="#111" stroke-width="0.9"/>
<line x1="49" y1="1308.7" x2="112.8" y2="1308.7" stroke="#111" stroke-width="0.9"/>
<line x1="55.8" y1="1240.8" x2="55.8" y2="1308.7" stroke="#111" stroke-width="1.0"/>
<polygon points="55.8,1240.8 58,1249.8 53.6,1249.8" fill="#111"/>
<polygon points="55.8,1308.7 53.6,1299.7 58,1299.7" fill="#111"/>
<text transform="translate(45.3,1271) rotate(-90) scale(0.6,1)" y="6.04" font-size="17" text-anchor="middle" fill="#555" font-weight="normal" font-family="Liberation Sans" letter-spacing="2.00">48</text>
<line x1="70" y1="1250.3" x2="124.5" y2="1250.3" stroke="#111" stroke-width="0.9"/>
<line x1="70" y1="1299.2" x2="124.5" y2="1299.2" stroke="#111" stroke-width="0.9"/>
<line x1="76.7" y1="1250.3" x2="76.7" y2="1299.2" stroke="#111" stroke-width="1.0"/>
<polygon points="76.7,1250.3 78.9,1259.3 74.5,1259.3" fill="#111"/>
<polygon points="76.7,1299.2 74.5,1290.2 78.9,1290.2" fill="#111"/>
<text transform="translate(65.8,1271) rotate(-90) scale(0.6,1)" y="6.04" font-size="17" text-anchor="middle" fill="#555" font-weight="normal" font-family="Liberation Sans" letter-spacing="2.00">34</text>
<line x1="90.8" y1="1258.3" x2="147.5" y2="1258.3" stroke="#111" stroke-width="0.9"/>
<line x1="90.8" y1="1291.2" x2="147.5" y2="1291.2" stroke="#111" stroke-width="0.9"/>
<line x1="97.5" y1="1258.3" x2="97.5" y2="1291.2" stroke="#111" stroke-width="1.0"/>
<polygon points="97.5,1258.3 99.7,1267.3 95.3,1267.3" fill="#111"/>
<polygon points="97.5,1291.2 95.3,1282.2 99.7,1282.2" fill="#111"/>
<text transform="translate(86.7,1271) rotate(-90) scale(0.6,1)" y="6.04" font-size="17" text-anchor="middle" fill="#555" font-weight="normal" font-family="Liberation Sans" letter-spacing="2.00">23</text>
<line x1="279.5" y1="1291" x2="279.5" y2="1347.5" stroke="#111" stroke-width="0.9"/>
<line x1="238" y1="1341.3" x2="279.5" y2="1341.3" stroke="#111" stroke-width="1.0"/>
<polygon points="238,1341.3 247,1339.1 247,1343.5" fill="#111"/>
<polygon points="279.5,1341.3 270.5,1343.5 270.5,1339.1" fill="#111"/>
<text transform="translate(259.7,1331.3) scale(0.6,1)" y="6.04" font-size="17" text-anchor="middle" fill="#555" font-weight="normal" font-family="Liberation Sans" letter-spacing="2.00">29.4</text>
<line x1="112.8" y1="1309" x2="112.8" y2="1374" stroke="#111" stroke-width="0.9"/>
<line x1="404.8" y1="1309" x2="404.8" y2="1375" stroke="#111" stroke-width="0.9"/>
<line x1="112.8" y1="1368" x2="404.8" y2="1368" stroke="#111" stroke-width="1.0"/>
<polygon points="112.8,1368 121.8,1365.8 121.8,1370.2" fill="#111"/>
<polygon points="404.8,1368 395.8,1370.2 395.8,1365.8" fill="#111"/>
<text transform="translate(259.7,1357.5) scale(0.6,1)" y="6.04" font-size="17" text-anchor="middle" fill="#555" font-weight="normal" font-family="Liberation Sans" letter-spacing="2.00">206</text>
<clipPath id="sec8"><path d="M715,1250.4 C715,1275 732,1295 749,1295 C768,1295 784,1275 784,1250.4 Z"/></clipPath>
<g clip-path="url(#sec8)">
<line x1="644" y1="1300" x2="704" y2="1240" stroke="#111" stroke-width="1.0"/>
<line x1="658" y1="1300" x2="718" y2="1240" stroke="#111" stroke-width="1.0"/>
<line x1="672" y1="1300" x2="732" y2="1240" stroke="#111" stroke-width="1.0"/>
<line x1="686" y1="1300" x2="746" y2="1240" stroke="#111" stroke-width="1.0"/>
<line x1="700" y1="1300" x2="760" y2="1240" stroke="#111" stroke-width="1.0"/>
<line x1="714" y1="1300" x2="774" y2="1240" stroke="#111" stroke-width="1.0"/>
<line x1="728" y1="1300" x2="788" y2="1240" stroke="#111" stroke-width="1.0"/>
<line x1="742" y1="1300" x2="802" y2="1240" stroke="#111" stroke-width="1.0"/>
<line x1="756" y1="1300" x2="816" y2="1240" stroke="#111" stroke-width="1.0"/>
<line x1="770" y1="1300" x2="830" y2="1240" stroke="#111" stroke-width="1.0"/>
<line x1="784" y1="1300" x2="844" y2="1240" stroke="#111" stroke-width="1.0"/>
<line x1="798" y1="1300" x2="858" y2="1240" stroke="#111" stroke-width="1.0"/>
</g>
<rect x="741" y="1254" width="43" height="62" fill="#fff" stroke="#fff" stroke-width="0.1"/>
<path d="M715,1250.4 C715,1275 732,1295 749,1295 C768,1295 784,1275 784,1250.4" fill="none" stroke="#111" stroke-width="1.2" />
<rect x="537.5" y="1241.7" width="90.8" height="4.1" rx="2" fill="none" stroke="#111" stroke-width="1.6"/>
<rect x="560.3" y="1237.8" width="11.4" height="3.9" fill="none" stroke="#111" stroke-width="1.4"/>
<rect x="593.7" y="1237.8" width="12.1" height="3.9" fill="none" stroke="#111" stroke-width="1.4"/>
<line x1="514" y1="1247.5" x2="795" y2="1247.5" stroke="#111" stroke-width="1.4"/>
<rect x="670" y="1241" width="90" height="5" rx="2" fill="none" stroke="#111" stroke-width="1.6"/>
<rect x="692.4" y="1237.6" width="11.6" height="3.4" fill="none" stroke="#111" stroke-width="1.4"/>
<rect x="727" y="1238" width="11.4" height="16" fill="#fff" stroke="#111" stroke-width="2.0"/>
<rect x="729" y="1254" width="7" height="18" fill="#fff" stroke="#111" stroke-width="1.6"/>
<line x1="732.7" y1="1230" x2="732.7" y2="1285" stroke="#111" stroke-width="0.8"/>
<polyline points="571.7,1316.3 503.3,1316.3 503.3,1250.8 795.4,1250.8 795.4,1316 726,1316" fill="none" stroke="#111" stroke-width="2.0" stroke-linejoin="miter"/>
<line x1="531.3" y1="1250.8" x2="531.3" y2="1316.3" stroke="#111" stroke-width="1.8"/>
<line x1="556.7" y1="1263.3" x2="556.7" y2="1316.3" stroke="#111" stroke-width="1.8"/>
<path d="M531.3,1256.7 L556.7,1263.3 Q650,1254 741,1256" fill="none" stroke="#111" stroke-width="1.6" />
<line x1="741" y1="1250.8" x2="741" y2="1316" stroke="#111" stroke-width="1.6"/>
<line x1="767" y1="1255" x2="767" y2="1316" stroke="#111" stroke-width="1.6"/>
<line x1="741" y1="1255" x2="817" y2="1255" stroke="#111" stroke-width="1.0"/>
<line x1="741" y1="1267.6" x2="841.6" y2="1267.6" stroke="#111" stroke-width="1.0"/>
<polyline points="571.7,1316.3 571.7,1372 726,1372 726,1316" fill="none" stroke="#111" stroke-width="2.0" stroke-linejoin="miter"/>
<polyline points="599.2,1372 599.2,1363 698,1363 698,1372" fill="none" stroke="#111" stroke-width="1.8" stroke-linejoin="miter"/>
<rect x="553" y="1316.8" width="7.7" height="25.3" fill="none" stroke="#111" stroke-width="1.5"/>
<rect x="564.7" y="1316.8" width="6.4" height="25.3" fill="none" stroke="#111" stroke-width="1.5"/>
<line x1="553" y1="1322.7" x2="560.7" y2="1322.7" stroke="#111" stroke-width="1.3"/>
<line x1="564.7" y1="1322.7" x2="571.1" y2="1322.7" stroke="#111" stroke-width="1.3"/>
<line x1="553" y1="1337.7" x2="560.7" y2="1337.7" stroke="#111" stroke-width="1.3"/>
<line x1="564.7" y1="1337.7" x2="571.1" y2="1337.7" stroke="#111" stroke-width="1.3"/>
<line x1="561.4" y1="1317.8" x2="561.4" y2="1342.1" stroke="#111" stroke-width="0.9"/>
<line x1="564" y1="1317.8" x2="564" y2="1342.1" stroke="#111" stroke-width="0.9"/>
<rect x="556.7" y="1342.1" width="11.8" height="3.8" fill="none" stroke="#111" stroke-width="1.4"/>
<rect x="560.7" y="1345.9" width="4" height="15" fill="none" stroke="#111" stroke-width="1.4"/>
<rect x="727.5" y="1316.8" width="7.7" height="25.3" fill="none" stroke="#111" stroke-width="1.5"/>
<rect x="739.2" y="1316.8" width="6.4" height="25.3" fill="none" stroke="#111" stroke-width="1.5"/>
<line x1="727.5" y1="1322.7" x2="735.2" y2="1322.7" stroke="#111" stroke-width="1.3"/>
<line x1="739.2" y1="1322.7" x2="745.6" y2="1322.7" stroke="#111" stroke-width="1.3"/>
<line x1="727.5" y1="1337.7" x2="735.2" y2="1337.7" stroke="#111" stroke-width="1.3"/>
<line x1="739.2" y1="1337.7" x2="745.6" y2="1337.7" stroke="#111" stroke-width="1.3"/>
<line x1="735.9" y1="1317.8" x2="735.9" y2="1342.1" stroke="#111" stroke-width="0.9"/>
<line x1="738.5" y1="1317.8" x2="738.5" y2="1342.1" stroke="#111" stroke-width="0.9"/>
<rect x="731.2" y="1342.1" width="11.8" height="3.8" fill="none" stroke="#111" stroke-width="1.4"/>
<rect x="735.2" y="1345.9" width="4" height="15" fill="none" stroke="#111" stroke-width="1.4"/>
<rect x="667.5" y="1277" width="35.5" height="17.5" rx="4.5" fill="none" stroke="#111" stroke-width="1.8"/>
<path d="M669.0,1288.55 H701.5 V1290.5 Q701.5,1293.5 698.5,1293.5 H672.0 Q669.0,1293.5 669.0,1290.5 Z" fill="#111"/>
<text transform="translate(683.48,1287.5) scale(0.92,1)" font-size="10.85" font-weight="bold" text-anchor="middle" fill="#111" stroke="#111" stroke-width="0.7" font-family="Liberation Sans">FOUK</text>
<circle cx="698.5" cy="1280.5" r="1.6" fill="#111"/>
<circle cx="649" cy="1293" r="3" fill="#111"/>
<circle cx="590.8" cy="1332.5" r="8" fill="none" stroke="#111" stroke-width="2.0"/>
<circle cx="590.8" cy="1332.5" r="5" fill="none" stroke="#111" stroke-width="1.2"/>
<line x1="579.8" y1="1332.5" x2="601.8" y2="1332.5" stroke="#111" stroke-width="0.9"/>
<line x1="590.8" y1="1321.5" x2="590.8" y2="1343.5" stroke="#111" stroke-width="0.9"/>
<circle cx="606.3" cy="1317.5" r="7" fill="none" stroke="#111" stroke-width="2.2"/>
<line x1="596.3" y1="1317.5" x2="616.3" y2="1317.5" stroke="#111" stroke-width="0.9"/>
<line x1="606.3" y1="1307.5" x2="606.3" y2="1327.5" stroke="#111" stroke-width="0.9"/>
<circle cx="691.6" cy="1317.6" r="7" fill="none" stroke="#111" stroke-width="2.2"/>
<line x1="681.6" y1="1317.6" x2="701.6" y2="1317.6" stroke="#111" stroke-width="0.9"/>
<line x1="691.6" y1="1307.6" x2="691.6" y2="1327.6" stroke="#111" stroke-width="0.9"/>
<circle cx="707" cy="1332.4" r="8" fill="none" stroke="#111" stroke-width="2.0"/>
<circle cx="707" cy="1332.4" r="5" fill="none" stroke="#111" stroke-width="1.2"/>
<line x1="696" y1="1332.4" x2="718" y2="1332.4" stroke="#111" stroke-width="0.9"/>
<line x1="707" y1="1321.4" x2="707" y2="1343.4" stroke="#111" stroke-width="0.9"/>
<line x1="458.3" y1="1237.8" x2="560" y2="1237.8" stroke="#111" stroke-width="0.9"/>
<line x1="458.3" y1="1241.7" x2="537" y2="1241.7" stroke="#111" stroke-width="0.9"/>
<line x1="464.7" y1="1197.5" x2="464.7" y2="1371.7" stroke="#111" stroke-width="1.0"/>
<polygon points="464.7,1237.8 462.5,1228.8 466.9,1228.8" fill="#111"/>
<polygon points="464.7,1241.7 466.9,1250.7 462.5,1250.7" fill="#111"/>
<polygon points="464.7,1371.7 462.5,1362.7 466.9,1362.7" fill="#111"/>
<text transform="translate(454,1213.7) rotate(-90) scale(0.6,1)" y="6.04" font-size="17" text-anchor="middle" fill="#555" font-weight="normal" font-family="Liberation Sans" letter-spacing="2.00">2.5</text>
<text transform="translate(454,1304.7) rotate(-90) scale(0.6,1)" y="6.04" font-size="17" text-anchor="middle" fill="#555" font-weight="normal" font-family="Liberation Sans" letter-spacing="2.00">92</text>
<line x1="482.5" y1="1250.8" x2="503" y2="1250.8" stroke="#111" stroke-width="0.9"/>
<line x1="488.7" y1="1250.8" x2="488.7" y2="1372" stroke="#111" stroke-width="1.0"/>
<polygon points="488.7,1250.8 490.9,1259.8 486.5,1259.8" fill="#111"/>
<polygon points="488.7,1372 486.5,1363 490.9,1363" fill="#111"/>
<text transform="translate(478.3,1305) rotate(-90) scale(0.6,1)" y="6.04" font-size="17" text-anchor="middle" fill="#555" font-weight="normal" font-family="Liberation Sans" letter-spacing="2.00">85.5</text>
<line x1="458.3" y1="1372" x2="571.7" y2="1372" stroke="#111" stroke-width="1.4"/>
<line x1="509.7" y1="1221.2" x2="624.7" y2="1221.2" stroke="#111" stroke-width="1.0"/>
<line x1="593.7" y1="1215" x2="593.7" y2="1237.8" stroke="#111" stroke-width="0.9"/>
<line x1="605.8" y1="1215" x2="605.8" y2="1237.8" stroke="#111" stroke-width="0.9"/>
<polygon points="593.7,1221.2 584.7,1223.4 584.7,1219" fill="#111"/>
<polygon points="605.8,1221.2 614.8,1219 614.8,1223.4" fill="#111"/>
<text transform="translate(530,1211.7) scale(0.62,1)" y="6.04" font-size="17" text-anchor="middle" fill="#555" font-weight="normal" font-family="Liberation Sans" letter-spacing="2.00">Ø8</text>
<text transform="translate(556.7,1197.5) scale(0.6,1)" y="4.97" font-size="14" text-anchor="middle" fill="#555" font-weight="normal" font-family="Liberation Sans" letter-spacing="1.65">0</text>
<text transform="translate(563.3,1212.5) scale(0.62,1)" y="4.97" font-size="14" text-anchor="middle" fill="#555" font-weight="normal" font-family="Liberation Sans" letter-spacing="1.65">-0.015</text>
<line x1="760" y1="1241" x2="841.6" y2="1241" stroke="#111" stroke-width="1.0"/>
<line x1="809.6" y1="1202" x2="809.6" y2="1274" stroke="#111" stroke-width="1.0"/>
<polygon points="809.6,1241 807.4,1232 811.8,1232" fill="#111"/>
<polygon points="809.6,1255 811.8,1264 807.4,1264" fill="#111"/>
<text transform="translate(799,1218) rotate(-90) scale(0.6,1)" y="6.04" font-size="17" text-anchor="middle" fill="#555" font-weight="normal" font-family="Liberation Sans" letter-spacing="2.00">9.5</text>
<line x1="835" y1="1199" x2="835" y2="1268" stroke="#111" stroke-width="1.0"/>
<polygon points="835,1241 837.2,1250 832.8,1250" fill="#111"/>
<polygon points="835,1267.6 832.8,1258.6 837.2,1258.6" fill="#111"/>
<text transform="translate(825,1217) rotate(-90) scale(0.6,1)" y="6.04" font-size="17" text-anchor="middle" fill="#555" font-weight="normal" font-family="Liberation Sans" letter-spacing="2.00">18.5</text>
<clipPath id="c9"><path d="M931.2932206385902,1206.6 H1084.7067793614096 A90.7,90.7 0 1 1 931.2932206385902,1206.6 Z"/></clipPath>
<g clip-path="url(#c9)">
<clipPath id="c9a"><rect x="910" y="1206" width="200" height="53"/></clipPath>
<g clip-path="url(#c9a)">
<line x1="780" y1="1262" x2="840" y2="1202" stroke="#111" stroke-width="1.0"/>
<line x1="792" y1="1262" x2="852" y2="1202" stroke="#111" stroke-width="1.0"/>
<line x1="804" y1="1262" x2="864" y2="1202" stroke="#111" stroke-width="1.0"/>
<line x1="816" y1="1262" x2="876" y2="1202" stroke="#111" stroke-width="1.0"/>
<line x1="828" y1="1262" x2="888" y2="1202" stroke="#111" stroke-width="1.0"/>
<line x1="840" y1="1262" x2="900" y2="1202" stroke="#111" stroke-width="1.0"/>
<line x1="852" y1="1262" x2="912" y2="1202" stroke="#111" stroke-width="1.0"/>
<line x1="864" y1="1262" x2="924" y2="1202" stroke="#111" stroke-width="1.0"/>
<line x1="876" y1="1262" x2="936" y2="1202" stroke="#111" stroke-width="1.0"/>
<line x1="888" y1="1262" x2="948" y2="1202" stroke="#111" stroke-width="1.0"/>
<line x1="900" y1="1262" x2="960" y2="1202" stroke="#111" stroke-width="1.0"/>
<line x1="912" y1="1262" x2="972" y2="1202" stroke="#111" stroke-width="1.0"/>
<line x1="924" y1="1262" x2="984" y2="1202" stroke="#111" stroke-width="1.0"/>
<line x1="936" y1="1262" x2="996" y2="1202" stroke="#111" stroke-width="1.0"/>
<line x1="948" y1="1262" x2="1008" y2="1202" stroke="#111" stroke-width="1.0"/>
<line x1="960" y1="1262" x2="1020" y2="1202" stroke="#111" stroke-width="1.0"/>
<line x1="972" y1="1262" x2="1032" y2="1202" stroke="#111" stroke-width="1.0"/>
<line x1="984" y1="1262" x2="1044" y2="1202" stroke="#111" stroke-width="1.0"/>
<line x1="996" y1="1262" x2="1056" y2="1202" stroke="#111" stroke-width="1.0"/>
<line x1="1008" y1="1262" x2="1068" y2="1202" stroke="#111" stroke-width="1.0"/>
<line x1="1020" y1="1262" x2="1080" y2="1202" stroke="#111" stroke-width="1.0"/>
<line x1="1032" y1="1262" x2="1092" y2="1202" stroke="#111" stroke-width="1.0"/>
<line x1="1044" y1="1262" x2="1104" y2="1202" stroke="#111" stroke-width="1.0"/>
<line x1="1056" y1="1262" x2="1116" y2="1202" stroke="#111" stroke-width="1.0"/>
<line x1="1068" y1="1262" x2="1128" y2="1202" stroke="#111" stroke-width="1.0"/>
<line x1="1080" y1="1262" x2="1140" y2="1202" stroke="#111" stroke-width="1.0"/>
<line x1="1092" y1="1262" x2="1152" y2="1202" stroke="#111" stroke-width="1.0"/>
<line x1="1104" y1="1262" x2="1164" y2="1202" stroke="#111" stroke-width="1.0"/>
<line x1="1116" y1="1262" x2="1176" y2="1202" stroke="#111" stroke-width="1.0"/>
<line x1="1128" y1="1262" x2="1188" y2="1202" stroke="#111" stroke-width="1.0"/>
</g>
<clipPath id="c9b"><rect x="971" y="1261" width="140" height="44"/></clipPath>
<g clip-path="url(#c9b)">
<line x1="830" y1="1310" x2="880" y2="1260" stroke="#111" stroke-width="1.0"/>
<line x1="842" y1="1310" x2="892" y2="1260" stroke="#111" stroke-width="1.0"/>
<line x1="854" y1="1310" x2="904" y2="1260" stroke="#111" stroke-width="1.0"/>
<line x1="866" y1="1310" x2="916" y2="1260" stroke="#111" stroke-width="1.0"/>
<line x1="878" y1="1310" x2="928" y2="1260" stroke="#111" stroke-width="1.0"/>
<line x1="890" y1="1310" x2="940" y2="1260" stroke="#111" stroke-width="1.0"/>
<line x1="902" y1="1310" x2="952" y2="1260" stroke="#111" stroke-width="1.0"/>
<line x1="914" y1="1310" x2="964" y2="1260" stroke="#111" stroke-width="1.0"/>
<line x1="926" y1="1310" x2="976" y2="1260" stroke="#111" stroke-width="1.0"/>
<line x1="938" y1="1310" x2="988" y2="1260" stroke="#111" stroke-width="1.0"/>
<line x1="950" y1="1310" x2="1000" y2="1260" stroke="#111" stroke-width="1.0"/>
<line x1="962" y1="1310" x2="1012" y2="1260" stroke="#111" stroke-width="1.0"/>
<line x1="974" y1="1310" x2="1024" y2="1260" stroke="#111" stroke-width="1.0"/>
<line x1="986" y1="1310" x2="1036" y2="1260" stroke="#111" stroke-width="1.0"/>
<line x1="998" y1="1310" x2="1048" y2="1260" stroke="#111" stroke-width="1.0"/>
<line x1="1010" y1="1310" x2="1060" y2="1260" stroke="#111" stroke-width="1.0"/>
<line x1="1022" y1="1310" x2="1072" y2="1260" stroke="#111" stroke-width="1.0"/>
<line x1="1034" y1="1310" x2="1084" y2="1260" stroke="#111" stroke-width="1.0"/>
<line x1="1046" y1="1310" x2="1096" y2="1260" stroke="#111" stroke-width="1.0"/>
<line x1="1058" y1="1310" x2="1108" y2="1260" stroke="#111" stroke-width="1.0"/>
<line x1="1070" y1="1310" x2="1120" y2="1260" stroke="#111" stroke-width="1.0"/>
<line x1="1082" y1="1310" x2="1132" y2="1260" stroke="#111" stroke-width="1.0"/>
<line x1="1094" y1="1310" x2="1144" y2="1260" stroke="#111" stroke-width="1.0"/>
<line x1="1106" y1="1310" x2="1156" y2="1260" stroke="#111" stroke-width="1.0"/>
<line x1="1118" y1="1310" x2="1168" y2="1260" stroke="#111" stroke-width="1.0"/>
<line x1="1130" y1="1310" x2="1180" y2="1260" stroke="#111" stroke-width="1.0"/>
<line x1="1142" y1="1310" x2="1192" y2="1260" stroke="#111" stroke-width="1.0"/>
<line x1="1154" y1="1310" x2="1204" y2="1260" stroke="#111" stroke-width="1.0"/>
<line x1="1166" y1="1310" x2="1216" y2="1260" stroke="#111" stroke-width="1.0"/>
<line x1="1178" y1="1310" x2="1228" y2="1260" stroke="#111" stroke-width="1.0"/>
</g>
<clipPath id="c9c"><path d="M900,1261 H971 V1305 H1110 V1360 H900 Z"/></clipPath>
<g clip-path="url(#c9c)">
<line x1="730" y1="1255" x2="840" y2="1365" stroke="#111" stroke-width="1.0"/>
<line x1="744" y1="1255" x2="854" y2="1365" stroke="#111" stroke-width="1.0"/>
<line x1="758" y1="1255" x2="868" y2="1365" stroke="#111" stroke-width="1.0"/>
<line x1="772" y1="1255" x2="882" y2="1365" stroke="#111" stroke-width="1.0"/>
<line x1="786" y1="1255" x2="896" y2="1365" stroke="#111" stroke-width="1.0"/>
<line x1="800" y1="1255" x2="910" y2="1365" stroke="#111" stroke-width="1.0"/>
<line x1="814" y1="1255" x2="924" y2="1365" stroke="#111" stroke-width="1.0"/>
<line x1="828" y1="1255" x2="938" y2="1365" stroke="#111" stroke-width="1.0"/>
<line x1="842" y1="1255" x2="952" y2="1365" stroke="#111" stroke-width="1.0"/>
<line x1="856" y1="1255" x2="966" y2="1365" stroke="#111" stroke-width="1.0"/>
<line x1="870" y1="1255" x2="980" y2="1365" stroke="#111" stroke-width="1.0"/>
<line x1="884" y1="1255" x2="994" y2="1365" stroke="#111" stroke-width="1.0"/>
<line x1="898" y1="1255" x2="1008" y2="1365" stroke="#111" stroke-width="1.0"/>
<line x1="912" y1="1255" x2="1022" y2="1365" stroke="#111" stroke-width="1.0"/>
<line x1="926" y1="1255" x2="1036" y2="1365" stroke="#111" stroke-width="1.0"/>
<line x1="940" y1="1255" x2="1050" y2="1365" stroke="#111" stroke-width="1.0"/>
<line x1="954" y1="1255" x2="1064" y2="1365" stroke="#111" stroke-width="1.0"/>
<line x1="968" y1="1255" x2="1078" y2="1365" stroke="#111" stroke-width="1.0"/>
<line x1="982" y1="1255" x2="1092" y2="1365" stroke="#111" stroke-width="1.0"/>
<line x1="996" y1="1255" x2="1106" y2="1365" stroke="#111" stroke-width="1.0"/>
<line x1="1010" y1="1255" x2="1120" y2="1365" stroke="#111" stroke-width="1.0"/>
<line x1="1024" y1="1255" x2="1134" y2="1365" stroke="#111" stroke-width="1.0"/>
<line x1="1038" y1="1255" x2="1148" y2="1365" stroke="#111" stroke-width="1.0"/>
<line x1="1052" y1="1255" x2="1162" y2="1365" stroke="#111" stroke-width="1.0"/>
<line x1="1066" y1="1255" x2="1176" y2="1365" stroke="#111" stroke-width="1.0"/>
<line x1="1080" y1="1255" x2="1190" y2="1365" stroke="#111" stroke-width="1.0"/>
<line x1="1094" y1="1255" x2="1204" y2="1365" stroke="#111" stroke-width="1.0"/>
<line x1="1108" y1="1255" x2="1218" y2="1365" stroke="#111" stroke-width="1.0"/>
<line x1="1122" y1="1255" x2="1232" y2="1365" stroke="#111" stroke-width="1.0"/>
<line x1="1136" y1="1255" x2="1246" y2="1365" stroke="#111" stroke-width="1.0"/>
</g>
</g>
<rect x="993.6" y="1206.6" width="28.3" height="52.1" fill="#fff" stroke="#111" stroke-width="1.4"/>
<rect x="993.6" y="1261" width="28.3" height="44" fill="#fff" stroke="#111" stroke-width="1.6"/>
<rect x="997.7" y="1305" width="20.1" height="61" fill="#fff" stroke="#fff" stroke-width="0.1"/>
<line x1="997.7" y1="1263" x2="997.7" y2="1366" stroke="#111" stroke-width="1.0"/>
<line x1="1017.8" y1="1263" x2="1017.8" y2="1366" stroke="#111" stroke-width="1.0"/>
<line x1="1000.5" y1="1263" x2="1000.5" y2="1303" stroke="#111" stroke-width="0.8"/>
<line x1="1015" y1="1263" x2="1015" y2="1303" stroke="#111" stroke-width="0.8"/>
<path d="M931.2932206385902,1206.6 H1084.7067793614096 A90.7,90.7 0 1 1 931.2932206385902,1206.6 Z" fill="none" stroke="#111" stroke-width="1.5" />
<line x1="917.5" y1="1258.7" x2="1099" y2="1258.7" stroke="#111" stroke-width="1.3"/>
<line x1="917.5" y1="1261" x2="1099" y2="1261" stroke="#111" stroke-width="1.3"/>
<line x1="971" y1="1261" x2="971" y2="1305" stroke="#111" stroke-width="2.0"/>
<line x1="973" y1="1261" x2="973" y2="1305" stroke="#111" stroke-width="1.0"/>
<line x1="971" y1="1305" x2="1083.7" y2="1305" stroke="#111" stroke-width="1.6"/>
<rect x="980.6" y="1257" width="13" height="4" fill="#111" stroke="#111" stroke-width="0.5"/>
<rect x="1021.9" y="1257" width="12.9" height="4" fill="#111" stroke="#111" stroke-width="0.5"/>
<line x1="980.6" y1="1246" x2="980.6" y2="1258" stroke="#111" stroke-width="0.9"/>
<line x1="1034.8" y1="1166" x2="1034.8" y2="1258" stroke="#111" stroke-width="0.9"/>
<line x1="980.6" y1="1166" x2="980.6" y2="1258" stroke="#111" stroke-width="0.9"/>
<line x1="899" y1="1171.6" x2="1037" y2="1171.6" stroke="#111" stroke-width="1.0"/>
<polygon points="980.6,1171.6 989.6,1169.4 989.6,1173.8" fill="#111"/>
<polygon points="1034.8,1171.6 1025.8,1173.8 1025.8,1169.4" fill="#111"/>
<text transform="translate(905,1164.2) scale(0.6,1)" y="5.32" font-size="15" text-anchor="start" fill="#555" font-weight="normal" font-family="Liberation Sans" letter-spacing="1.76">Ø5.5</text>
<path d="M934.75,1159.825 H943.25 M939,1159.825 V1169.6 M935.175,1163.65 L939,1169.6 L942.825,1163.65" fill="none" stroke="#444" stroke-width="1.1" />
<text transform="translate(947,1164.2) scale(0.6,1)" y="5.32" font-size="15" text-anchor="start" fill="#555" font-weight="normal" font-family="Liberation Sans" letter-spacing="1.76">0.4</text>
<line x1="993.6" y1="1188" x2="993.6" y2="1206.6" stroke="#111" stroke-width="0.9"/>
<line x1="1021.9" y1="1188" x2="1021.9" y2="1206.6" stroke="#111" stroke-width="0.9"/>
<line x1="916" y1="1192.8" x2="1021.9" y2="1192.8" stroke="#111" stroke-width="1.0"/>
<polygon points="993.6,1192.8 1002.6,1190.6 1002.6,1195" fill="#111"/>
<polygon points="1021.9,1192.8 1012.9,1195 1012.9,1190.6" fill="#111"/>
<text transform="translate(930.7,1185.4) scale(0.6,1)" y="5.32" font-size="15" text-anchor="middle" fill="#555" font-weight="normal" font-family="Liberation Sans" letter-spacing="1.76">Ø4</text>
<text transform="translate(1102.5,1166.7) scale(0.54,1)" y="4.97" font-size="14" text-anchor="middle" fill="#555" font-weight="normal" font-family="Liberation Sans" letter-spacing="1.65">Connecting plate</text>
<line x1="1068" y1="1175.2" x2="1137" y2="1175.2" stroke="#111" stroke-width="0.9"/>
<line x1="1067.3" y1="1175.2" x2="1059.6" y2="1230.8" stroke="#111" stroke-width="0.9"/>
<text transform="translate(1134.5,1302.3) scale(0.54,1)" y="4.97" font-size="14" text-anchor="middle" fill="#555" font-weight="normal" font-family="Liberation Sans" letter-spacing="1.65">Bottom cover plate</text>
<text transform="translate(1153.5,1317.4) scale(0.54,1)" y="4.97" font-size="14" text-anchor="middle" fill="#555" font-weight="normal" font-family="Liberation Sans" letter-spacing="1.65">of gripper</text>
<line x1="1092" y1="1326.5" x2="1174.5" y2="1326.5" stroke="#111" stroke-width="0.9"/>
<line x1="1092" y1="1326.5" x2="1045.3" y2="1287" stroke="#111" stroke-width="0.9"/>
<text transform="translate(1094.8,1349) scale(0.54,1)" y="4.97" font-size="14" text-anchor="middle" fill="#555" font-weight="normal" font-family="Liberation Sans" letter-spacing="1.65">Gripper shell</text>
<line x1="1066" y1="1357.3" x2="1121" y2="1357.3" stroke="#111" stroke-width="0.9"/>
<line x1="1066" y1="1357.3" x2="1034.3" y2="1322.9" stroke="#111" stroke-width="0.9"/>
<text transform="translate(885.5,1313.3) scale(0.54,1)" y="4.97" font-size="14" text-anchor="middle" fill="#555" font-weight="normal" font-family="Liberation Sans" letter-spacing="1.65">Sealing ring</text>
<text transform="translate(878.6,1329.8) scale(0.54,1)" y="4.97" font-size="14" text-anchor="middle" fill="#555" font-weight="normal" font-family="Liberation Sans" letter-spacing="1.65">ϕ3.5*1</text>
<line x1="860" y1="1335.8" x2="929.8" y2="1335.8" stroke="#111" stroke-width="0.9"/>
<line x1="929.8" y1="1335.8" x2="971" y2="1277.5" stroke="#111" stroke-width="0.9"/>
<text transform="translate(980,1358.6) scale(0.6,1)" y="4.97" font-size="14" text-anchor="middle" fill="#555" font-weight="normal" font-family="Liberation Sans" letter-spacing="1.65">2-M3</text>
<line x1="962.8" y1="1366.9" x2="1017.8" y2="1366.9" stroke="#111" stroke-width="1.0"/>
<polygon points="997.7,1366.9 989.7,1368.9 989.7,1364.9" fill="#111"/>
<polygon points="1017.8,1366.9 1025.8,1364.9 1025.8,1368.9" fill="#111"/>
<circle cx="863.6" cy="532.7" r="12.2" fill="none" stroke="#222" stroke-width="1.3"/>
<text x="863.6" y="538.4000000000001" font-size="16" fill="#222" text-anchor="middle">1</text>
<text x="883.5" y="539" font-size="14.1" fill="#333" word-spacing="1.6">Gripping finger location pin bushing</text>
<text x="883.5" y="555" font-size="14.1" fill="#333" word-spacing="1.6">(standard)</text>
<circle cx="863.6" cy="578" r="12.2" fill="none" stroke="#222" stroke-width="1.3"/>
<text x="863.6" y="583.7" font-size="16" fill="#222" text-anchor="middle">2</text>
<text x="883.5" y="585.3" font-size="14.1" fill="#333" word-spacing="1.6">Gripping finger positioning groove</text>
<circle cx="863.6" cy="613.7" r="12.2" fill="none" stroke="#222" stroke-width="1.3"/>
<text x="863.6" y="619.4000000000001" font-size="16" fill="#222" text-anchor="middle">3</text>
<text x="883.5" y="620" font-size="14.1" fill="#333" word-spacing="1.6">Mounting hole of gripping finger</text>
<circle cx="863.7" cy="650.2" r="12.2" fill="none" stroke="#222" stroke-width="1.3"/>
<text x="863.7" y="655.9000000000001" font-size="16" fill="#222" text-anchor="middle">5</text>
<circle cx="894.3" cy="650.2" r="12.2" fill="none" stroke="#222" stroke-width="1.3"/>
<text x="894.3" y="655.9000000000001" font-size="16" fill="#222" text-anchor="middle">7</text>
<circle cx="926.6" cy="650.2" r="12.2" fill="none" stroke="#222" stroke-width="1.3"/>
<text x="926.6" y="655.9000000000001" font-size="16" fill="#222" text-anchor="middle">8</text>
<circle cx="959" cy="650.2" r="12.2" fill="none" stroke="#222" stroke-width="1.3"/>
<text x="959" y="655.9000000000001" font-size="16" fill="#222" text-anchor="middle">9</text>
<circle cx="990.3" cy="650.2" r="12.2" fill="none" stroke="#222" stroke-width="1.3"/>
<text x="990.3" y="655.9000000000001" font-size="14.5" fill="#222" text-anchor="middle">10</text>
<text x="1013" y="656.5" font-size="14.1" fill="#333" word-spacing="1.6">Gripper mounting hole</text>
<circle cx="863.7" cy="693" r="12.2" fill="none" stroke="#222" stroke-width="1.3"/>
<text x="863.7" y="698.7" font-size="16" fill="#222" text-anchor="middle">4</text>
<circle cx="894.3" cy="693" r="12.2" fill="none" stroke="#222" stroke-width="1.3"/>
<text x="894.3" y="698.7" font-size="16" fill="#222" text-anchor="middle">6</text>
<text x="913.7" y="698.4" font-size="14.1" fill="#333" word-spacing="1.6">Gripper positioning hole</text>
<circle cx="863.6" cy="729.7" r="12.2" fill="none" stroke="#222" stroke-width="1.3"/>
<text x="863.6" y="735.4000000000001" font-size="16" fill="#222" text-anchor="middle">A</text>
<text x="883.5" y="736.5" font-size="14.1" fill="#333" word-spacing="1.6">Compressed air connection port</text>
<circle cx="863.6" cy="766" r="12.2" fill="none" stroke="#222" stroke-width="1.3"/>
<text x="863.6" y="771.7" font-size="16" fill="#222" text-anchor="middle">B</text>
<text x="883.5" y="772.8" font-size="14.1" fill="#333" word-spacing="1.6">Location of inductive proximity sensor</text>
<circle cx="863.6" cy="801.2" r="12.2" fill="none" stroke="#222" stroke-width="1.3"/>
<text x="863.6" y="806.9000000000001" font-size="16" fill="#222" text-anchor="middle">C</text>
<text x="883.5" y="808.5" font-size="14.1" fill="#333" word-spacing="1.6">Positive-pressure air blowing hole/grease</text>
<text x="883.5" y="825.8" font-size="14.1" fill="#333" word-spacing="1.6">injection hole</text>
<circle cx="863.6" cy="846.6" r="12.2" fill="none" stroke="#222" stroke-width="1.3"/>
<text x="863.6" y="852.3000000000001" font-size="16" fill="#222" text-anchor="middle">D</text>
<text x="883.5" y="853.5" font-size="14.1" fill="#333" word-spacing="1.6">Bottom ventilation hole (version-B)</text>
<text x="668.8" y="995.4" font-size="24.7" font-weight="bold" fill="#c0202a" text-anchor="end">TR57-166-L-P Dust-proof</text>
<text x="1157.5" y="995.4" font-size="25.2" font-weight="bold" fill="#c0202a" text-anchor="end">TR57-166-L-B Ventilation at bottom</text>
<rect x="38" y="1008" width="631" height="2" fill="#777"/>
<rect x="728" y="1007" width="430" height="2" fill="#777"/>
<text x="669" y="1027.5" font-size="14.6" fill="#333" text-anchor="end">Dust-proof module, IP64 for the positive-pressure air blowing hole after it, is connected</text>
<text x="669" y="1042.5" font-size="14.6" fill="#333" text-anchor="end">to the compressed air of 0.05-0.10MPa, otherwise, IP50</text>
</svg>
</body></html>
